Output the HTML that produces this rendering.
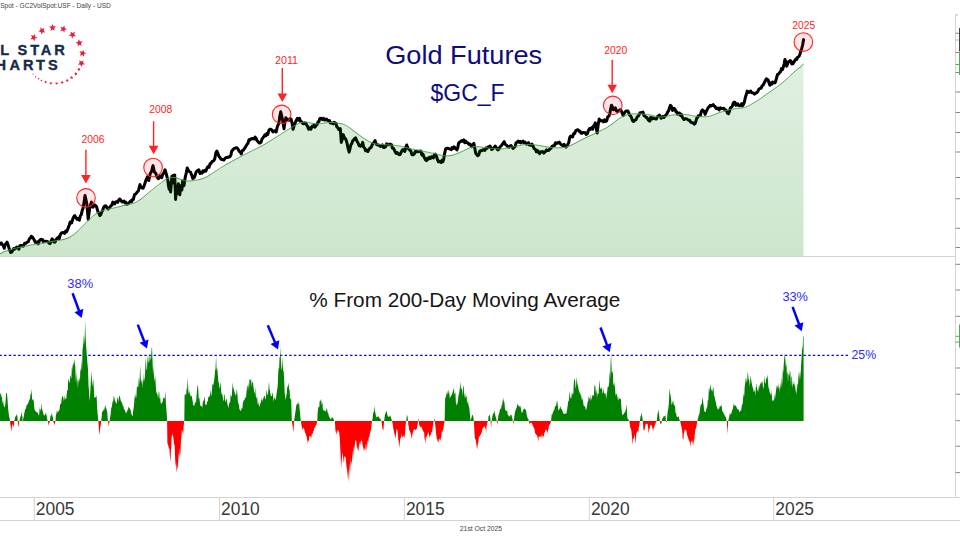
<!DOCTYPE html>
<html><head><meta charset="utf-8"><style>
html,body{margin:0;padding:0;background:#fff;width:960px;height:540px;overflow:hidden}
</style></head><body>
<svg width="960" height="540" viewBox="0 0 960 540" style="display:block">
<defs>
<linearGradient id="g1" gradientUnits="userSpaceOnUse" x1="0" y1="38" x2="0" y2="256"><stop offset="0" stop-color="#008000" stop-opacity="0.11"/><stop offset="1" stop-color="#008000" stop-opacity="0.20"/></linearGradient>
<clipPath id="cpos"><rect x="0" y="0" width="960" height="421.0"/></clipPath>
<clipPath id="cneg"><rect x="0" y="421.0" width="960" height="200"/></clipPath>
</defs>
<rect width="960" height="540" fill="#fff"/>
<polyline points="0.0,244.2 1.2,242.9 2.5,244.6 3.4,245.9 4.2,248.3 5.0,244.9 5.8,243.8 7.1,242.1 8.3,245.8 9.6,250.0 10.8,252.5 11.7,252.1 12.5,250.8 13.6,248.6 14.6,249.2 15.6,248.3 16.7,247.1 17.7,247.7 18.8,249.2 19.8,245.9 20.8,245.4 22.1,245.8 23.3,246.2 24.6,243.3 25.8,243.3 27.1,242.3 28.3,241.7 29.4,238.6 30.4,238.3 31.2,236.2 32.1,236.7 33.2,238.1 34.2,240.0 35.2,242.3 36.2,242.5 37.3,241.9 38.3,243.8 39.5,240.6 40.8,239.2 41.6,239.8 42.5,239.6 43.4,241.9 44.2,241.2 45.5,241.5 46.7,241.2 48.0,241.9 49.2,243.3 50.2,243.6 51.2,240.8 52.1,238.9 52.9,240.0 54.0,242.2 55.0,242.1 56.2,239.3 57.5,237.9 58.4,237.2 59.2,238.8 60.2,234.8 61.2,233.3 62.5,232.4 63.7,232.7 64.6,233.4 65.6,231.1 66.5,231.8 67.4,230.0 68.3,227.6 69.2,225.2 70.2,222.0 71.6,223.0 73.0,218.3 73.9,216.5 74.8,215.6 75.9,217.6 77.1,219.3 78.2,218.4 79.4,220.2 80.3,216.0 81.3,214.6 82.2,210.4 83.1,208.1 84.0,202.4 85.0,195.6 86.0,199.8 86.9,204.4 88.2,219.3 89.6,209.1 90.5,205.0 91.5,202.1 92.9,207.2 93.8,206.3 94.7,204.9 95.7,205.7 96.6,206.8 98.0,211.9 98.9,213.1 99.8,215.6 100.8,214.7 101.7,211.9 102.6,210.4 103.5,207.7 104.7,205.9 105.8,205.8 106.9,207.7 108.1,209.1 109.3,207.8 110.5,206.3 111.7,205.4 112.8,202.1 113.7,203.8 114.6,204.0 115.5,202.2 116.5,201.7 117.7,202.3 118.8,199.8 119.8,199.0 120.9,200.4 122.0,202.0 123.0,201.6 124.0,201.1 124.9,202.9 125.8,202.1 126.8,204.2 127.8,203.9 128.8,203.4 129.7,202.0 130.7,200.9 131.6,201.7 132.4,199.4 133.3,199.6 134.6,194.4 135.6,194.1 136.6,192.8 137.5,191.8 138.5,190.6 139.2,187.5 140.0,184.6 140.9,187.3 141.9,187.9 143.1,188.2 144.2,185.6 145.1,182.7 146.0,180.0 147.4,176.8 148.8,180.5 150.2,173.5 151.6,171.2 153.0,165.6 154.4,172.1 155.7,173.1 157.1,177.2 158.5,178.6 159.9,175.8 160.9,177.3 161.8,177.7 162.7,174.2 163.6,173.5 165.0,169.8 166.4,174.4 167.8,180.0 168.5,186.0 169.2,189.3 169.9,183.0 170.6,192.0 171.2,185.0 171.9,176.3 172.6,183.0 173.3,175.4 174.0,182.0 174.7,174.9 175.6,199.4 176.3,190.0 177.0,193.9 177.7,188.0 178.4,183.7 179.1,190.0 179.8,194.8 180.5,188.0 181.2,185.6 181.9,190.0 182.6,180.9 183.3,186.0 184.0,185.6 185.4,176.3 186.3,172.8 187.2,168.0 188.6,170.7 189.6,171.9 190.5,172.1 191.9,175.8 192.8,178.5 193.7,178.1 194.6,176.8 195.6,173.5 196.5,171.4 197.4,170.7 198.8,169.8 200.0,173.5 201.0,172.7 202.0,173.2 202.9,170.8 203.9,171.8 204.9,170.4 205.9,171.1 206.9,168.3 208.0,166.6 209.0,167.3 210.1,163.7 211.1,163.3 212.0,161.6 212.8,161.2 213.7,160.7 214.8,158.7 215.8,152.9 216.9,151.0 217.9,153.4 218.9,156.2 219.8,157.2 220.8,159.0 221.8,159.6 222.7,159.4 223.8,160.1 225.0,158.5 226.0,157.5 226.9,157.6 227.9,157.1 228.9,157.2 229.9,156.7 230.9,155.1 231.8,150.8 232.8,150.1 233.9,148.6 235.1,148.2 236.2,147.7 237.3,148.1 238.3,149.5 239.2,151.3 240.2,151.8 241.2,154.0 242.3,150.6 243.4,150.1 244.6,148.2 245.7,146.8 246.8,144.6 247.9,143.5 249.0,139.7 250.1,139.9 251.1,138.9 252.2,138.4 253.2,138.8 254.2,139.0 255.1,137.0 256.1,138.4 257.1,140.8 258.1,141.6 259.0,143.0 260.0,143.0 261.0,142.3 261.9,139.4 262.9,137.8 263.9,136.5 264.9,134.7 265.9,135.9 266.8,133.6 267.8,134.5 268.8,130.5 269.7,129.3 270.8,129.3 271.9,130.0 273.0,132.0 274.1,131.5 275.1,130.6 276.2,132.0 277.1,127.6 277.9,125.2 278.8,123.5 279.8,116.4 280.7,111.8 281.7,115.9 282.7,120.9 284.0,128.7 284.9,121.7 285.9,117.7 287.0,119.8 288.0,119.8 289.1,120.3 290.1,118.5 291.1,119.0 292.1,123.4 293.0,129.3 294.1,125.8 295.2,122.9 296.3,120.3 297.4,118.4 298.4,120.1 299.5,118.3 300.6,121.6 301.7,121.7 302.8,123.5 303.8,123.8 304.7,122.8 305.7,123.2 306.6,124.8 307.6,126.5 308.6,129.3 309.7,127.9 310.9,129.1 312.0,126.3 313.1,126.7 314.1,124.7 315.1,127.2 316.0,125.4 317.0,124.8 318.0,122.0 318.9,121.7 319.9,118.4 320.9,118.3 321.8,118.4 322.6,119.8 323.5,118.3 324.5,120.0 325.4,119.9 326.4,119.0 327.4,120.3 328.4,120.5 329.4,120.5 330.3,123.1 331.3,122.9 332.2,123.0 333.2,123.8 334.2,122.4 335.1,122.9 336.0,123.5 336.8,126.9 337.7,127.4 338.6,129.4 339.4,129.4 340.3,128.7 341.3,142.4 342.2,139.5 343.2,134.6 344.1,137.2 344.9,138.4 345.8,139.2 346.9,142.6 348.0,147.9 349.1,152.1 350.0,148.8 350.8,145.0 351.7,143.7 352.7,140.7 353.6,140.1 354.6,138.6 355.6,137.9 356.9,141.1 358.1,143.0 359.0,145.6 359.8,145.0 360.7,146.3 361.7,145.7 362.7,142.4 363.6,146.9 364.6,148.2 365.7,150.8 366.8,150.0 367.9,151.5 369.0,149.3 370.0,148.0 371.1,147.6 372.1,144.9 373.1,143.1 374.0,142.7 375.0,140.5 375.9,143.3 376.7,144.6 377.6,145.0 378.6,145.1 379.6,145.8 380.5,146.4 381.5,145.6 382.4,144.9 383.2,147.4 384.1,147.6 385.4,147.0 386.6,143.7 387.6,144.8 388.6,144.8 389.5,144.1 390.5,144.3 391.5,144.7 392.4,148.2 393.4,148.2 394.4,150.2 395.3,152.1 396.2,153.5 397.2,152.6 398.1,153.5 399.0,154.7 400.1,154.6 401.1,152.4 402.2,150.2 403.1,149.6 403.9,149.9 404.8,151.5 405.8,147.1 406.7,145.0 407.8,148.0 408.9,149.4 410.0,150.2 410.9,151.3 411.9,154.7 413.0,154.7 414.1,154.1 415.2,151.5 416.1,152.0 417.1,151.0 418.1,151.7 419.0,151.5 420.0,151.0 420.9,151.2 421.9,155.0 422.9,154.1 423.8,156.5 424.6,158.1 425.5,159.9 426.5,160.6 427.4,158.4 428.4,159.1 429.4,157.3 430.4,158.5 431.4,156.7 432.3,157.0 433.3,157.9 434.2,155.3 435.2,154.1 436.3,155.8 437.4,159.5 438.5,161.8 439.4,161.3 440.2,162.0 441.1,162.5 442.0,160.2 442.8,161.6 443.7,159.2 444.6,153.6 445.6,148.9 446.6,148.4 447.6,148.2 448.9,148.8 450.1,148.9 451.1,149.7 452.1,147.6 453.0,148.7 454.0,146.9 455.0,147.9 455.9,149.0 456.9,149.9 457.8,147.4 458.6,143.2 459.5,142.1 460.6,141.6 461.7,140.5 462.8,141.2 463.8,139.9 464.8,142.8 465.7,141.1 466.7,142.5 467.8,142.9 468.8,144.3 469.9,144.1 470.9,145.6 471.8,146.7 472.8,144.5 473.8,143.4 474.8,148.3 475.7,153.1 476.7,154.6 477.7,155.7 478.8,154.9 479.8,151.0 480.9,150.5 481.9,150.7 482.9,149.7 483.8,149.8 484.8,150.5 486.1,147.9 487.1,148.3 488.1,147.0 489.0,146.7 490.0,146.0 490.9,147.9 491.7,149.5 492.6,149.2 493.5,148.0 494.3,147.4 495.2,146.0 496.1,147.3 496.9,148.6 497.8,149.9 498.9,149.2 499.9,147.1 501.0,146.0 502.1,144.7 503.1,143.1 504.2,141.7 505.1,144.3 505.9,144.8 506.8,145.4 507.9,146.8 509.0,147.2 510.1,146.0 511.1,145.6 512.0,146.8 513.0,148.4 514.0,147.3 515.1,146.7 516.1,142.7 517.2,142.1 518.2,141.1 519.2,142.3 520.1,141.3 521.1,142.8 522.1,141.8 523.0,141.1 524.0,142.8 525.0,142.1 525.9,143.4 526.7,144.2 527.6,143.4 528.5,142.7 529.3,145.0 530.2,144.7 531.1,145.4 531.9,144.0 532.8,145.4 534.0,148.5 535.3,149.2 536.4,151.8 537.5,150.5 538.6,152.5 539.7,153.7 540.7,151.7 541.8,151.8 542.8,151.6 543.8,153.1 544.7,152.4 545.7,151.2 546.6,149.9 547.4,150.5 548.3,150.5 549.2,149.9 550.0,148.7 550.9,148.6 551.8,146.6 552.6,146.0 553.5,145.6 554.5,145.6 555.5,142.7 556.4,143.7 557.4,142.8 558.4,143.1 559.3,142.2 560.3,143.7 561.3,144.7 562.2,145.4 563.2,145.4 564.1,144.3 565.1,146.0 566.0,147.1 566.8,146.1 567.7,144.7 568.7,142.7 569.7,137.6 570.7,136.1 571.6,136.4 572.6,137.0 573.7,133.4 574.7,133.6 575.8,130.5 576.9,130.0 578.0,129.8 579.1,131.2 580.1,131.3 581.0,133.2 582.0,133.2 583.0,132.5 584.1,132.4 585.1,132.6 586.2,134.4 587.3,133.8 588.3,130.8 589.4,128.6 590.5,129.4 591.6,127.7 592.7,129.2 593.6,125.7 594.4,125.5 595.3,122.8 596.2,127.7 597.2,133.1 598.2,124.6 599.2,118.9 600.3,120.9 601.3,120.6 602.4,120.8 603.5,122.0 604.5,119.9 605.6,121.5 606.7,120.9 607.8,116.6 608.9,116.3 609.8,113.8 610.6,108.8 611.5,105.3 612.5,107.0 613.4,109.8 614.4,109.0 615.4,107.9 616.6,111.2 617.9,111.7 619.0,110.6 620.1,109.7 621.2,110.5 622.2,113.1 623.1,115.6 624.1,113.6 625.0,112.1 626.0,111.1 627.0,111.1 627.9,111.0 628.7,112.7 629.6,115.0 630.6,116.0 631.5,117.6 632.5,120.7 633.5,121.5 634.4,120.2 635.2,120.2 636.1,119.5 637.0,117.2 637.8,116.4 638.7,115.6 639.8,113.0 640.8,112.7 641.9,112.4 643.0,112.1 644.1,115.7 645.2,116.3 646.2,117.6 647.1,117.6 648.0,119.6 649.0,120.8 649.9,121.1 650.7,117.4 651.6,117.6 652.6,118.9 653.5,118.0 654.5,118.6 655.5,118.9 656.5,119.0 657.5,116.6 658.4,116.0 659.4,115.0 660.3,116.5 661.1,118.3 662.0,117.6 663.0,116.4 664.0,117.4 664.9,116.3 665.9,115.0 666.8,114.1 667.6,112.1 668.5,111.1 669.5,107.7 670.4,105.3 671.4,106.5 672.4,110.5 673.3,108.9 674.1,108.3 675.0,109.2 675.9,111.7 676.7,111.8 677.6,114.3 678.5,113.2 679.5,113.0 680.5,115.4 681.4,114.3 682.3,117.2 683.1,118.3 684.0,119.5 684.9,118.8 685.8,118.7 686.7,118.9 687.6,119.6 688.7,120.3 689.7,120.2 690.8,122.2 691.9,122.7 693.0,122.7 694.1,124.1 695.0,123.6 695.8,121.7 696.7,118.3 697.6,117.6 698.4,115.7 699.3,115.7 700.4,115.3 701.4,111.2 702.5,109.9 703.4,110.9 704.2,111.3 705.1,114.4 706.2,111.7 707.2,109.6 708.3,107.3 709.3,106.8 710.2,105.4 711.2,105.9 712.2,105.4 713.2,104.6 714.2,106.2 715.1,106.5 716.1,108.6 717.2,108.7 718.2,108.0 719.3,109.9 720.4,107.9 721.5,108.4 722.6,108.6 723.7,108.2 724.7,109.7 725.8,109.9 726.7,111.3 727.5,113.3 728.4,113.8 729.4,111.4 730.4,108.0 731.4,107.2 732.3,106.3 733.2,103.2 734.2,102.1 735.1,102.4 735.9,105.4 736.8,104.7 737.8,103.8 738.8,105.8 739.7,105.7 740.7,105.4 741.6,103.7 742.4,106.0 743.3,104.7 744.3,102.4 745.3,97.6 746.2,94.8 747.2,91.1 748.1,92.0 748.9,92.5 749.8,91.7 750.7,91.0 751.5,92.6 752.4,93.0 753.5,93.0 754.5,94.1 755.6,93.0 756.7,92.7 757.8,91.5 758.9,89.2 760.0,88.4 761.0,88.3 762.1,85.9 763.0,85.2 763.8,83.9 764.7,82.0 765.6,80.3 766.4,78.8 767.3,79.4 768.2,80.2 769.0,82.9 769.9,85.3 770.8,82.9 771.6,84.2 772.5,82.0 773.4,82.4 774.2,82.9 775.1,82.7 776.3,79.0 777.5,74.5 778.5,74.1 779.6,72.6 780.6,71.7 781.5,68.6 782.4,69.7 783.3,67.2 784.1,64.1 785.0,59.4 785.9,62.8 786.7,66.1 787.5,64.0 788.3,61.7 789.1,61.7 790.0,60.6 790.9,60.9 791.7,63.9 792.8,63.8 793.9,62.2 794.8,60.5 795.8,59.0 796.7,59.4 797.5,57.4 798.3,57.0 799.1,56.2 800.0,54.0 800.8,50.8 801.5,49.5 802.6,45.0 803.6,39.6" fill="none" stroke="#000" stroke-width="3.0" stroke-linejoin="round" stroke-linecap="round"/>
<polygon points="0.0,256.0 0.0,253.8 1.0,253.3 2.1,252.8 3.1,252.0 4.2,251.7 5.2,251.4 6.2,251.0 7.3,250.6 8.3,250.2 9.4,249.9 10.4,249.6 11.4,249.3 12.5,249.0 13.6,248.7 14.6,248.5 15.6,248.2 16.7,248.0 17.7,247.7 18.8,247.5 19.8,247.3 20.9,247.1 21.9,246.9 22.9,246.7 24.0,246.5 25.0,246.3 26.0,246.0 27.1,245.8 28.1,245.6 29.1,245.4 30.2,245.2 31.2,245.0 32.3,244.8 33.3,244.7 34.3,244.5 35.4,244.3 36.5,244.1 37.5,244.0 38.5,243.8 39.6,243.6 40.7,243.4 41.7,243.3 42.7,243.1 43.8,242.9 44.8,242.7 45.9,242.5 46.9,242.3 47.9,242.1 49.0,241.9 50.0,241.7 51.0,241.6 52.1,241.4 53.1,241.2 54.1,241.1 55.2,240.9 56.2,240.7 57.3,240.6 58.3,240.4 59.2,240.3 60.2,240.1 61.1,240.0 62.1,239.8 63.0,239.6 64.0,239.3 65.0,239.0 66.0,238.7 67.0,238.4 68.0,238.0 69.0,237.5 70.0,237.0 71.0,236.4 71.9,235.8 72.9,235.2 73.9,234.4 74.9,233.6 75.9,232.7 77.0,231.8 78.0,230.8 79.0,229.8 80.0,228.8 81.1,227.7 82.1,226.7 83.1,225.6 84.1,224.6 85.2,223.5 86.2,222.5 87.2,221.4 88.3,220.4 89.3,219.3 90.3,218.3 91.4,217.4 92.4,216.5 93.3,215.7 94.2,215.0 95.2,214.3 96.1,213.7 97.0,213.1 97.9,212.6 98.9,212.2 99.8,211.8 100.8,211.4 101.7,211.0 102.6,210.7 103.5,210.4 104.5,210.1 105.4,209.9 106.3,209.6 107.2,209.4 108.1,209.2 109.1,209.0 110.0,208.8 110.9,208.6 111.8,208.4 112.8,208.2 113.7,208.0 114.7,207.8 115.6,207.6 116.7,207.3 117.8,207.0 118.9,206.8 120.0,206.5 121.0,206.2 122.0,205.9 123.0,205.6 124.0,205.4 125.1,205.2 126.1,204.9 127.1,204.7 128.2,204.5 129.2,204.3 130.2,204.0 131.2,203.8 132.3,203.5 133.3,203.2 134.3,202.9 135.2,202.5 136.2,202.1 137.1,201.6 138.1,201.1 139.0,200.5 140.0,199.8 141.0,199.1 142.1,198.3 143.1,197.5 144.1,196.6 145.2,195.7 146.2,194.8 147.2,193.9 148.3,193.0 149.3,192.1 150.3,191.3 151.3,190.4 152.4,189.6 153.4,188.7 154.4,187.9 155.4,187.1 156.5,186.3 157.5,185.5 158.5,184.8 159.4,184.0 160.4,183.3 161.3,182.6 162.2,181.9 163.2,181.2 164.1,180.5 165.0,179.9 165.9,179.3 166.9,178.8 167.8,178.4 168.7,178.0 169.6,177.7 170.6,177.5 171.5,177.4 172.4,177.4 173.3,177.4 174.2,177.5 175.2,177.6 176.1,177.8 177.0,178.1 177.9,178.4 178.9,178.7 179.8,179.1 180.8,179.4 181.7,179.8 182.6,180.1 183.5,180.4 184.5,180.6 185.4,180.8 186.3,180.9 187.2,181.0 188.1,181.0 189.1,181.0 190.0,181.0 190.9,180.9 191.8,180.8 192.8,180.7 193.7,180.6 194.7,180.5 195.6,180.3 196.7,180.1 197.8,179.9 198.9,179.7 200.0,179.4 201.0,179.1 202.0,178.8 202.9,178.5 203.9,178.1 204.9,177.7 205.9,177.2 206.9,176.7 207.8,176.2 208.8,175.6 209.8,175.0 210.8,174.3 211.8,173.7 212.7,173.0 213.7,172.4 214.7,171.8 215.6,171.1 216.6,170.5 217.6,169.8 218.5,169.2 219.5,168.6 220.4,167.9 221.4,167.3 222.3,166.8 223.3,166.2 224.2,165.6 225.1,165.1 226.1,164.5 227.0,164.0 228.0,163.4 229.0,162.9 230.1,162.3 231.1,161.8 232.1,161.2 233.1,160.7 234.2,160.1 235.2,159.6 236.2,159.0 237.2,158.5 238.3,157.9 239.3,157.4 240.3,156.8 241.3,156.3 242.4,155.7 243.4,155.2 244.4,154.6 245.4,154.1 246.5,153.6 247.5,153.1 248.5,152.6 249.5,152.0 250.6,151.5 251.6,151.0 252.6,150.5 253.6,150.0 254.7,149.5 255.7,149.0 256.7,148.5 257.7,148.0 258.8,147.4 259.8,146.9 260.8,146.4 261.8,145.9 262.9,145.3 263.9,144.7 264.9,144.2 265.9,143.5 267.0,142.9 268.0,142.3 269.0,141.7 270.0,141.0 271.0,140.4 272.1,139.7 273.1,139.1 274.1,138.4 275.1,137.8 276.2,137.1 277.2,136.5 278.2,135.8 279.2,135.2 280.2,134.5 281.3,133.9 282.3,133.2 283.3,132.6 284.3,131.9 285.3,131.3 286.3,130.6 287.3,130.0 288.4,129.3 289.4,128.7 290.4,128.1 291.4,127.5 292.4,126.9 293.4,126.3 294.3,125.7 295.3,125.2 296.3,124.7 297.3,124.2 298.2,123.7 299.2,123.3 300.2,122.9 301.3,122.6 302.3,122.4 303.4,122.2 304.5,122.1 305.5,122.1 306.6,122.2 307.6,122.3 308.6,122.4 309.6,122.7 310.6,122.9 311.7,123.2 312.7,123.4 313.7,123.6 314.7,123.8 315.7,123.9 316.7,124.0 317.7,123.9 318.7,123.9 319.7,123.7 320.7,123.6 321.7,123.4 322.7,123.3 323.7,123.1 324.7,122.9 325.7,122.8 326.7,122.7 327.7,122.6 328.7,122.5 329.7,122.5 330.8,122.5 331.8,122.5 332.8,122.6 333.9,122.7 334.9,122.8 335.9,122.9 336.9,123.0 338.0,123.1 339.0,123.3 339.9,123.4 340.9,123.6 341.8,123.8 342.8,124.1 343.7,124.4 344.6,124.8 345.6,125.2 346.5,125.8 347.6,126.4 348.7,127.1 349.8,127.9 350.8,128.7 351.9,129.6 353.0,130.4 354.0,131.2 355.0,132.0 356.0,132.7 357.0,133.5 358.0,134.2 359.0,134.9 359.9,135.6 360.9,136.3 361.9,137.0 362.9,137.7 363.9,138.3 364.9,139.0 365.9,139.6 366.9,140.2 367.8,140.8 368.8,141.3 369.8,141.8 370.8,142.3 371.8,142.7 372.7,143.1 373.7,143.5 374.7,143.7 375.6,143.9 376.6,144.1 377.6,144.2 378.6,144.3 379.5,144.3 380.5,144.4 381.5,144.5 382.5,144.5 383.4,144.6 384.4,144.6 385.4,144.7 386.4,144.8 387.4,144.8 388.4,144.9 389.4,145.0 390.4,145.0 391.4,145.1 392.3,145.2 393.3,145.3 394.3,145.3 395.3,145.4 396.3,145.5 397.3,145.7 398.3,145.8 399.3,146.0 400.3,146.2 401.3,146.4 402.3,146.6 403.3,146.9 404.3,147.1 405.3,147.4 406.3,147.6 407.3,147.9 408.3,148.1 409.3,148.4 410.3,148.6 411.3,148.8 412.3,149.1 413.3,149.3 414.3,149.5 415.3,149.7 416.3,149.9 417.3,150.1 418.2,150.3 419.2,150.5 420.2,150.7 421.2,150.9 422.2,151.1 423.2,151.3 424.2,151.5 425.2,151.7 426.3,151.9 427.3,152.1 428.4,152.3 429.4,152.5 430.4,152.7 431.5,152.9 432.5,153.1 433.6,153.3 434.6,153.5 435.6,153.8 436.6,154.1 437.6,154.4 438.6,154.6 439.7,154.9 440.7,155.2 441.7,155.4 442.7,155.6 443.7,155.8 444.7,155.9 445.8,155.9 446.8,155.9 447.9,155.9 448.9,155.8 449.9,155.7 451.0,155.5 452.0,155.3 453.0,155.0 454.0,154.7 454.9,154.4 455.9,154.0 456.9,153.6 457.9,153.2 458.9,152.8 459.9,152.4 460.8,152.0 461.8,151.5 462.8,151.1 463.8,150.6 464.9,150.1 465.9,149.6 466.9,149.1 468.0,148.6 469.0,148.2 470.0,147.7 471.0,147.3 472.1,147.0 473.1,146.8 474.1,146.6 475.1,146.6 476.2,146.6 477.2,146.6 478.2,146.7 479.2,146.8 480.2,147.0 481.3,147.1 482.3,147.2 483.3,147.4 484.3,147.5 485.4,147.6 486.4,147.7 487.4,147.8 488.4,148.0 489.4,148.1 490.4,148.2 491.5,148.3 492.5,148.4 493.5,148.5 494.5,148.5 495.5,148.6 496.5,148.7 497.5,148.8 498.6,148.9 499.6,148.9 500.6,148.9 501.6,148.8 502.6,148.8 503.6,148.7 504.5,148.5 505.5,148.3 506.5,148.1 507.4,147.9 508.4,147.7 509.4,147.5 510.4,147.3 511.3,147.1 512.3,146.9 513.3,146.7 514.3,146.5 515.3,146.3 516.3,146.1 517.3,145.9 518.3,145.7 519.3,145.5 520.3,145.3 521.3,145.1 522.3,144.9 523.3,144.8 524.3,144.6 525.3,144.5 526.3,144.5 527.3,144.4 528.3,144.4 529.3,144.5 530.3,144.5 531.3,144.6 532.3,144.7 533.2,144.8 534.2,144.9 535.2,145.0 536.2,145.1 537.2,145.2 538.2,145.4 539.2,145.5 540.2,145.7 541.2,145.8 542.2,146.0 543.2,146.2 544.2,146.4 545.2,146.6 546.2,146.7 547.2,146.9 548.2,147.1 549.2,147.3 550.2,147.4 551.2,147.6 552.2,147.7 553.2,147.7 554.2,147.8 555.2,147.8 556.2,147.8 557.2,147.8 558.2,147.8 559.1,147.8 560.1,147.8 561.1,147.7 562.1,147.7 563.1,147.6 564.1,147.4 565.1,147.3 566.1,147.0 567.1,146.8 568.1,146.4 569.0,146.1 570.0,145.7 571.0,145.3 572.0,144.8 573.0,144.3 574.0,143.8 575.0,143.3 576.0,142.8 577.0,142.3 578.0,141.7 579.0,141.2 580.0,140.7 581.0,140.1 582.0,139.6 583.0,139.1 584.0,138.6 585.0,138.1 586.0,137.7 587.0,137.2 588.0,136.7 589.0,136.3 589.9,135.8 590.9,135.4 591.9,134.9 592.9,134.5 593.9,134.0 594.9,133.5 595.9,133.1 596.9,132.6 597.9,132.1 598.9,131.6 599.9,131.1 600.9,130.6 601.9,130.1 602.9,129.6 603.9,129.1 604.9,128.6 605.9,128.1 606.9,127.5 607.9,126.9 608.9,126.3 609.9,125.6 611.0,124.8 612.0,124.1 613.0,123.3 614.0,122.5 615.1,121.6 616.1,120.8 617.1,120.1 618.2,119.3 619.2,118.6 620.2,118.0 621.2,117.4 622.1,116.8 623.1,116.3 624.1,115.9 625.0,115.5 626.0,115.1 627.0,114.8 628.0,114.5 629.0,114.3 629.9,114.2 630.9,114.1 631.9,114.0 632.8,113.9 633.8,113.9 634.8,113.8 635.8,113.8 636.8,113.8 637.8,113.9 638.8,113.9 639.8,113.9 640.8,114.0 641.8,114.0 642.8,114.1 643.8,114.1 644.8,114.2 645.8,114.3 646.8,114.4 647.8,114.5 648.8,114.7 649.8,114.9 650.8,115.1 651.8,115.3 652.8,115.6 653.8,115.8 654.7,116.1 655.7,116.3 656.7,116.5 657.7,116.7 658.7,116.9 659.7,117.0 660.7,117.0 661.7,117.0 662.7,116.9 663.7,116.8 664.7,116.7 665.7,116.5 666.7,116.3 667.7,116.0 668.7,115.8 669.7,115.6 670.7,115.4 671.7,115.2 672.7,115.1 673.7,114.9 674.7,114.8 675.7,114.7 676.7,114.7 677.7,114.6 678.7,114.6 679.7,114.5 680.6,114.5 681.6,114.5 682.6,114.5 683.6,114.5 684.6,114.5 685.6,114.5 686.6,114.6 687.6,114.7 688.6,114.9 689.5,115.1 690.5,115.3 691.5,115.5 692.5,115.7 693.4,115.9 694.4,116.0 695.4,116.2 696.4,116.3 697.4,116.4 698.4,116.5 699.4,116.6 700.4,116.6 701.4,116.7 702.3,116.7 703.3,116.7 704.3,116.8 705.3,116.8 706.3,116.7 707.3,116.6 708.3,116.5 709.3,116.3 710.3,116.0 711.3,115.7 712.3,115.4 713.3,115.0 714.3,114.6 715.3,114.2 716.3,113.8 717.3,113.4 718.3,113.0 719.3,112.7 720.3,112.3 721.3,112.0 722.3,111.7 723.3,111.4 724.3,111.1 725.3,110.8 726.3,110.6 727.3,110.3 728.2,110.1 729.2,109.8 730.2,109.6 731.2,109.4 732.2,109.2 733.2,109.0 734.2,108.8 735.2,108.7 736.3,108.6 737.3,108.5 738.4,108.4 739.4,108.3 740.4,108.2 741.5,108.1 742.5,107.9 743.6,107.7 744.6,107.4 745.6,107.1 746.5,106.7 747.5,106.3 748.5,105.8 749.5,105.3 750.5,104.7 751.4,104.2 752.4,103.6 753.4,103.1 754.3,102.5 755.3,101.9 756.3,101.3 757.3,100.7 758.3,100.0 759.3,99.4 760.3,98.7 761.3,98.0 762.3,97.3 763.2,96.6 764.2,95.9 765.2,95.2 766.2,94.5 767.2,93.8 768.2,93.1 769.2,92.4 770.2,91.7 771.2,91.0 772.2,90.3 773.2,89.6 774.2,88.9 775.2,88.2 776.2,87.5 777.2,86.8 778.2,86.1 779.2,85.3 780.2,84.6 781.2,83.8 782.2,83.0 783.2,82.2 784.2,81.3 785.2,80.4 786.2,79.5 787.2,78.6 788.2,77.6 789.1,76.7 790.1,75.7 791.1,74.8 792.1,73.9 793.1,72.9 794.1,72.0 795.1,71.2 796.1,70.3 797.0,69.5 798.0,68.7 799.0,67.9 800.0,67.3 801.0,66.7 801.9,65.3 802.9,64.5 803.5,64.0 803.5,256.0" fill="url(#g1)"/>
<polyline points="0.0,253.8 1.0,253.3 2.1,252.8 3.1,252.0 4.2,251.7 5.2,251.4 6.2,251.0 7.3,250.6 8.3,250.2 9.4,249.9 10.4,249.6 11.4,249.3 12.5,249.0 13.6,248.7 14.6,248.5 15.6,248.2 16.7,248.0 17.7,247.7 18.8,247.5 19.8,247.3 20.9,247.1 21.9,246.9 22.9,246.7 24.0,246.5 25.0,246.3 26.0,246.0 27.1,245.8 28.1,245.6 29.1,245.4 30.2,245.2 31.2,245.0 32.3,244.8 33.3,244.7 34.3,244.5 35.4,244.3 36.5,244.1 37.5,244.0 38.5,243.8 39.6,243.6 40.7,243.4 41.7,243.3 42.7,243.1 43.8,242.9 44.8,242.7 45.9,242.5 46.9,242.3 47.9,242.1 49.0,241.9 50.0,241.7 51.0,241.6 52.1,241.4 53.1,241.2 54.1,241.1 55.2,240.9 56.2,240.7 57.3,240.6 58.3,240.4 59.2,240.3 60.2,240.1 61.1,240.0 62.1,239.8 63.0,239.6 64.0,239.3 65.0,239.0 66.0,238.7 67.0,238.4 68.0,238.0 69.0,237.5 70.0,237.0 71.0,236.4 71.9,235.8 72.9,235.2 73.9,234.4 74.9,233.6 75.9,232.7 77.0,231.8 78.0,230.8 79.0,229.8 80.0,228.8 81.1,227.7 82.1,226.7 83.1,225.6 84.1,224.6 85.2,223.5 86.2,222.5 87.2,221.4 88.3,220.4 89.3,219.3 90.3,218.3 91.4,217.4 92.4,216.5 93.3,215.7 94.2,215.0 95.2,214.3 96.1,213.7 97.0,213.1 97.9,212.6 98.9,212.2 99.8,211.8 100.8,211.4 101.7,211.0 102.6,210.7 103.5,210.4 104.5,210.1 105.4,209.9 106.3,209.6 107.2,209.4 108.1,209.2 109.1,209.0 110.0,208.8 110.9,208.6 111.8,208.4 112.8,208.2 113.7,208.0 114.7,207.8 115.6,207.6 116.7,207.3 117.8,207.0 118.9,206.8 120.0,206.5 121.0,206.2 122.0,205.9 123.0,205.6 124.0,205.4 125.1,205.2 126.1,204.9 127.1,204.7 128.2,204.5 129.2,204.3 130.2,204.0 131.2,203.8 132.3,203.5 133.3,203.2 134.3,202.9 135.2,202.5 136.2,202.1 137.1,201.6 138.1,201.1 139.0,200.5 140.0,199.8 141.0,199.1 142.1,198.3 143.1,197.5 144.1,196.6 145.2,195.7 146.2,194.8 147.2,193.9 148.3,193.0 149.3,192.1 150.3,191.3 151.3,190.4 152.4,189.6 153.4,188.7 154.4,187.9 155.4,187.1 156.5,186.3 157.5,185.5 158.5,184.8 159.4,184.0 160.4,183.3 161.3,182.6 162.2,181.9 163.2,181.2 164.1,180.5 165.0,179.9 165.9,179.3 166.9,178.8 167.8,178.4 168.7,178.0 169.6,177.7 170.6,177.5 171.5,177.4 172.4,177.4 173.3,177.4 174.2,177.5 175.2,177.6 176.1,177.8 177.0,178.1 177.9,178.4 178.9,178.7 179.8,179.1 180.8,179.4 181.7,179.8 182.6,180.1 183.5,180.4 184.5,180.6 185.4,180.8 186.3,180.9 187.2,181.0 188.1,181.0 189.1,181.0 190.0,181.0 190.9,180.9 191.8,180.8 192.8,180.7 193.7,180.6 194.7,180.5 195.6,180.3 196.7,180.1 197.8,179.9 198.9,179.7 200.0,179.4 201.0,179.1 202.0,178.8 202.9,178.5 203.9,178.1 204.9,177.7 205.9,177.2 206.9,176.7 207.8,176.2 208.8,175.6 209.8,175.0 210.8,174.3 211.8,173.7 212.7,173.0 213.7,172.4 214.7,171.8 215.6,171.1 216.6,170.5 217.6,169.8 218.5,169.2 219.5,168.6 220.4,167.9 221.4,167.3 222.3,166.8 223.3,166.2 224.2,165.6 225.1,165.1 226.1,164.5 227.0,164.0 228.0,163.4 229.0,162.9 230.1,162.3 231.1,161.8 232.1,161.2 233.1,160.7 234.2,160.1 235.2,159.6 236.2,159.0 237.2,158.5 238.3,157.9 239.3,157.4 240.3,156.8 241.3,156.3 242.4,155.7 243.4,155.2 244.4,154.6 245.4,154.1 246.5,153.6 247.5,153.1 248.5,152.6 249.5,152.0 250.6,151.5 251.6,151.0 252.6,150.5 253.6,150.0 254.7,149.5 255.7,149.0 256.7,148.5 257.7,148.0 258.8,147.4 259.8,146.9 260.8,146.4 261.8,145.9 262.9,145.3 263.9,144.7 264.9,144.2 265.9,143.5 267.0,142.9 268.0,142.3 269.0,141.7 270.0,141.0 271.0,140.4 272.1,139.7 273.1,139.1 274.1,138.4 275.1,137.8 276.2,137.1 277.2,136.5 278.2,135.8 279.2,135.2 280.2,134.5 281.3,133.9 282.3,133.2 283.3,132.6 284.3,131.9 285.3,131.3 286.3,130.6 287.3,130.0 288.4,129.3 289.4,128.7 290.4,128.1 291.4,127.5 292.4,126.9 293.4,126.3 294.3,125.7 295.3,125.2 296.3,124.7 297.3,124.2 298.2,123.7 299.2,123.3 300.2,122.9 301.3,122.6 302.3,122.4 303.4,122.2 304.5,122.1 305.5,122.1 306.6,122.2 307.6,122.3 308.6,122.4 309.6,122.7 310.6,122.9 311.7,123.2 312.7,123.4 313.7,123.6 314.7,123.8 315.7,123.9 316.7,124.0 317.7,123.9 318.7,123.9 319.7,123.7 320.7,123.6 321.7,123.4 322.7,123.3 323.7,123.1 324.7,122.9 325.7,122.8 326.7,122.7 327.7,122.6 328.7,122.5 329.7,122.5 330.8,122.5 331.8,122.5 332.8,122.6 333.9,122.7 334.9,122.8 335.9,122.9 336.9,123.0 338.0,123.1 339.0,123.3 339.9,123.4 340.9,123.6 341.8,123.8 342.8,124.1 343.7,124.4 344.6,124.8 345.6,125.2 346.5,125.8 347.6,126.4 348.7,127.1 349.8,127.9 350.8,128.7 351.9,129.6 353.0,130.4 354.0,131.2 355.0,132.0 356.0,132.7 357.0,133.5 358.0,134.2 359.0,134.9 359.9,135.6 360.9,136.3 361.9,137.0 362.9,137.7 363.9,138.3 364.9,139.0 365.9,139.6 366.9,140.2 367.8,140.8 368.8,141.3 369.8,141.8 370.8,142.3 371.8,142.7 372.7,143.1 373.7,143.5 374.7,143.7 375.6,143.9 376.6,144.1 377.6,144.2 378.6,144.3 379.5,144.3 380.5,144.4 381.5,144.5 382.5,144.5 383.4,144.6 384.4,144.6 385.4,144.7 386.4,144.8 387.4,144.8 388.4,144.9 389.4,145.0 390.4,145.0 391.4,145.1 392.3,145.2 393.3,145.3 394.3,145.3 395.3,145.4 396.3,145.5 397.3,145.7 398.3,145.8 399.3,146.0 400.3,146.2 401.3,146.4 402.3,146.6 403.3,146.9 404.3,147.1 405.3,147.4 406.3,147.6 407.3,147.9 408.3,148.1 409.3,148.4 410.3,148.6 411.3,148.8 412.3,149.1 413.3,149.3 414.3,149.5 415.3,149.7 416.3,149.9 417.3,150.1 418.2,150.3 419.2,150.5 420.2,150.7 421.2,150.9 422.2,151.1 423.2,151.3 424.2,151.5 425.2,151.7 426.3,151.9 427.3,152.1 428.4,152.3 429.4,152.5 430.4,152.7 431.5,152.9 432.5,153.1 433.6,153.3 434.6,153.5 435.6,153.8 436.6,154.1 437.6,154.4 438.6,154.6 439.7,154.9 440.7,155.2 441.7,155.4 442.7,155.6 443.7,155.8 444.7,155.9 445.8,155.9 446.8,155.9 447.9,155.9 448.9,155.8 449.9,155.7 451.0,155.5 452.0,155.3 453.0,155.0 454.0,154.7 454.9,154.4 455.9,154.0 456.9,153.6 457.9,153.2 458.9,152.8 459.9,152.4 460.8,152.0 461.8,151.5 462.8,151.1 463.8,150.6 464.9,150.1 465.9,149.6 466.9,149.1 468.0,148.6 469.0,148.2 470.0,147.7 471.0,147.3 472.1,147.0 473.1,146.8 474.1,146.6 475.1,146.6 476.2,146.6 477.2,146.6 478.2,146.7 479.2,146.8 480.2,147.0 481.3,147.1 482.3,147.2 483.3,147.4 484.3,147.5 485.4,147.6 486.4,147.7 487.4,147.8 488.4,148.0 489.4,148.1 490.4,148.2 491.5,148.3 492.5,148.4 493.5,148.5 494.5,148.5 495.5,148.6 496.5,148.7 497.5,148.8 498.6,148.9 499.6,148.9 500.6,148.9 501.6,148.8 502.6,148.8 503.6,148.7 504.5,148.5 505.5,148.3 506.5,148.1 507.4,147.9 508.4,147.7 509.4,147.5 510.4,147.3 511.3,147.1 512.3,146.9 513.3,146.7 514.3,146.5 515.3,146.3 516.3,146.1 517.3,145.9 518.3,145.7 519.3,145.5 520.3,145.3 521.3,145.1 522.3,144.9 523.3,144.8 524.3,144.6 525.3,144.5 526.3,144.5 527.3,144.4 528.3,144.4 529.3,144.5 530.3,144.5 531.3,144.6 532.3,144.7 533.2,144.8 534.2,144.9 535.2,145.0 536.2,145.1 537.2,145.2 538.2,145.4 539.2,145.5 540.2,145.7 541.2,145.8 542.2,146.0 543.2,146.2 544.2,146.4 545.2,146.6 546.2,146.7 547.2,146.9 548.2,147.1 549.2,147.3 550.2,147.4 551.2,147.6 552.2,147.7 553.2,147.7 554.2,147.8 555.2,147.8 556.2,147.8 557.2,147.8 558.2,147.8 559.1,147.8 560.1,147.8 561.1,147.7 562.1,147.7 563.1,147.6 564.1,147.4 565.1,147.3 566.1,147.0 567.1,146.8 568.1,146.4 569.0,146.1 570.0,145.7 571.0,145.3 572.0,144.8 573.0,144.3 574.0,143.8 575.0,143.3 576.0,142.8 577.0,142.3 578.0,141.7 579.0,141.2 580.0,140.7 581.0,140.1 582.0,139.6 583.0,139.1 584.0,138.6 585.0,138.1 586.0,137.7 587.0,137.2 588.0,136.7 589.0,136.3 589.9,135.8 590.9,135.4 591.9,134.9 592.9,134.5 593.9,134.0 594.9,133.5 595.9,133.1 596.9,132.6 597.9,132.1 598.9,131.6 599.9,131.1 600.9,130.6 601.9,130.1 602.9,129.6 603.9,129.1 604.9,128.6 605.9,128.1 606.9,127.5 607.9,126.9 608.9,126.3 609.9,125.6 611.0,124.8 612.0,124.1 613.0,123.3 614.0,122.5 615.1,121.6 616.1,120.8 617.1,120.1 618.2,119.3 619.2,118.6 620.2,118.0 621.2,117.4 622.1,116.8 623.1,116.3 624.1,115.9 625.0,115.5 626.0,115.1 627.0,114.8 628.0,114.5 629.0,114.3 629.9,114.2 630.9,114.1 631.9,114.0 632.8,113.9 633.8,113.9 634.8,113.8 635.8,113.8 636.8,113.8 637.8,113.9 638.8,113.9 639.8,113.9 640.8,114.0 641.8,114.0 642.8,114.1 643.8,114.1 644.8,114.2 645.8,114.3 646.8,114.4 647.8,114.5 648.8,114.7 649.8,114.9 650.8,115.1 651.8,115.3 652.8,115.6 653.8,115.8 654.7,116.1 655.7,116.3 656.7,116.5 657.7,116.7 658.7,116.9 659.7,117.0 660.7,117.0 661.7,117.0 662.7,116.9 663.7,116.8 664.7,116.7 665.7,116.5 666.7,116.3 667.7,116.0 668.7,115.8 669.7,115.6 670.7,115.4 671.7,115.2 672.7,115.1 673.7,114.9 674.7,114.8 675.7,114.7 676.7,114.7 677.7,114.6 678.7,114.6 679.7,114.5 680.6,114.5 681.6,114.5 682.6,114.5 683.6,114.5 684.6,114.5 685.6,114.5 686.6,114.6 687.6,114.7 688.6,114.9 689.5,115.1 690.5,115.3 691.5,115.5 692.5,115.7 693.4,115.9 694.4,116.0 695.4,116.2 696.4,116.3 697.4,116.4 698.4,116.5 699.4,116.6 700.4,116.6 701.4,116.7 702.3,116.7 703.3,116.7 704.3,116.8 705.3,116.8 706.3,116.7 707.3,116.6 708.3,116.5 709.3,116.3 710.3,116.0 711.3,115.7 712.3,115.4 713.3,115.0 714.3,114.6 715.3,114.2 716.3,113.8 717.3,113.4 718.3,113.0 719.3,112.7 720.3,112.3 721.3,112.0 722.3,111.7 723.3,111.4 724.3,111.1 725.3,110.8 726.3,110.6 727.3,110.3 728.2,110.1 729.2,109.8 730.2,109.6 731.2,109.4 732.2,109.2 733.2,109.0 734.2,108.8 735.2,108.7 736.3,108.6 737.3,108.5 738.4,108.4 739.4,108.3 740.4,108.2 741.5,108.1 742.5,107.9 743.6,107.7 744.6,107.4 745.6,107.1 746.5,106.7 747.5,106.3 748.5,105.8 749.5,105.3 750.5,104.7 751.4,104.2 752.4,103.6 753.4,103.1 754.3,102.5 755.3,101.9 756.3,101.3 757.3,100.7 758.3,100.0 759.3,99.4 760.3,98.7 761.3,98.0 762.3,97.3 763.2,96.6 764.2,95.9 765.2,95.2 766.2,94.5 767.2,93.8 768.2,93.1 769.2,92.4 770.2,91.7 771.2,91.0 772.2,90.3 773.2,89.6 774.2,88.9 775.2,88.2 776.2,87.5 777.2,86.8 778.2,86.1 779.2,85.3 780.2,84.6 781.2,83.8 782.2,83.0 783.2,82.2 784.2,81.3 785.2,80.4 786.2,79.5 787.2,78.6 788.2,77.6 789.1,76.7 790.1,75.7 791.1,74.8 792.1,73.9 793.1,72.9 794.1,72.0 795.1,71.2 796.1,70.3 797.0,69.5 798.0,68.7 799.0,67.9 800.0,67.3 801.0,66.7 801.9,65.3 802.9,64.5 803.5,64.0" fill="none" stroke="#46a446" stroke-width="1"/>
<line x1="85.9" y1="149.7" x2="85.9" y2="175.5" stroke="#ff2424" stroke-width="1.4"/>
<path d="M81.10000000000001,175.0 L90.7,175.0 L85.9,183.5 Z" fill="#ff2424"/>
<circle cx="86" cy="197.9" r="9.3" fill="rgba(255,0,0,0.1)" stroke="#ff2424" stroke-width="1.1"/>
<text x="81.5" y="143.2" font-family='"Liberation Sans", sans-serif' font-size="10.3" fill="#ff2424" textLength="23" lengthAdjust="spacingAndGlyphs">2006</text>
<line x1="153.6" y1="121.2" x2="153.6" y2="146.2" stroke="#ff2424" stroke-width="1.4"/>
<path d="M148.79999999999998,145.7 L158.4,145.7 L153.6,154.2 Z" fill="#ff2424"/>
<circle cx="153.05" cy="167.5" r="9.3" fill="rgba(255,0,0,0.1)" stroke="#ff2424" stroke-width="1.1"/>
<text x="149.2" y="113.3" font-family='"Liberation Sans", sans-serif' font-size="10.3" fill="#ff2424" textLength="23" lengthAdjust="spacingAndGlyphs">2008</text>
<line x1="282.3" y1="68" x2="282.3" y2="93.9" stroke="#ff2424" stroke-width="1.4"/>
<path d="M277.5,93.4 L287.1,93.4 L282.3,101.9 Z" fill="#ff2424"/>
<circle cx="281.65" cy="114.4" r="9.3" fill="rgba(255,0,0,0.1)" stroke="#ff2424" stroke-width="1.1"/>
<text x="275.0" y="64.3" font-family='"Liberation Sans", sans-serif' font-size="10.3" fill="#ff2424" textLength="23" lengthAdjust="spacingAndGlyphs">2011</text>
<line x1="612.2" y1="59.7" x2="612.2" y2="85.3" stroke="#ff2424" stroke-width="1.4"/>
<path d="M607.4000000000001,84.8 L617.0,84.8 L612.2,93.3 Z" fill="#ff2424"/>
<circle cx="612.75" cy="105.4" r="9.3" fill="rgba(255,0,0,0.1)" stroke="#ff2424" stroke-width="1.1"/>
<text x="604.2" y="53.5" font-family='"Liberation Sans", sans-serif' font-size="10.3" fill="#ff2424" textLength="23" lengthAdjust="spacingAndGlyphs">2020</text>
<circle cx="803.35" cy="42.05" r="9.3" fill="rgba(255,0,0,0.1)" stroke="#ff2424" stroke-width="1.1"/>
<text x="792.3" y="29.0" font-family='"Liberation Sans", sans-serif' font-size="10.3" fill="#ff2424" textLength="23" lengthAdjust="spacingAndGlyphs">2025</text>
<text x="463.7" y="64.2" font-family='"Liberation Sans", sans-serif' font-size="25" fill="#0d0d7d" text-anchor="middle" textLength="157" lengthAdjust="spacingAndGlyphs">Gold Futures</text>
<text x="467.6" y="101.4" font-family='"Liberation Sans", sans-serif' font-size="24.5" fill="#0d0d7d" text-anchor="middle" textLength="74" lengthAdjust="spacingAndGlyphs">$GC_F</text>
<text x="0.2" y="7.8" font-family='"Liberation Sans", sans-serif' font-size="7" fill="#444" textLength="110.6" lengthAdjust="spacingAndGlyphs">Spot - GC2VolSpot:USF - Daily - USD</text>
<g transform="translate(0,55.3) scale(1,1)"><text x="0.2 17.4 30.2 40.7 54.3" y="0" font-family='"Liberation Sans", sans-serif' font-size="14.6" font-weight="bold" fill="#132a4c" stroke="#132a4c" stroke-width="0.35">LSTAR</text></g>
<g transform="translate(0,70.3) scale(1,1)"><text x="-4.5 9.4 22.9 35.9 48.1" y="0" font-family='"Liberation Sans", sans-serif' font-size="14.6" font-weight="bold" fill="#132a4c" stroke="#132a4c" stroke-width="0.35">HARTS</text></g>
<path d="M30.88,35.02 L33.33,35.85 L35.18,34.06 L35.15,36.64 L37.43,37.85 L34.97,38.61 L34.52,41.16 L33.03,39.05 L30.47,39.41 L32.02,37.34Z" fill="#e3203f"/>
<path d="M40.33,27.34 L42.28,29.04 L44.68,28.08 L43.67,30.45 L45.32,32.44 L42.75,32.21 L41.37,34.40 L40.79,31.88 L38.29,31.25 L40.50,29.92Z" fill="#e3203f"/>
<path d="M52.25,23.96 L53.40,26.27 L55.98,26.30 L54.14,28.11 L54.90,30.58 L52.61,29.38 L50.51,30.88 L50.93,28.33 L48.86,26.79 L51.42,26.41Z" fill="#e3203f"/>
<path d="M64.49,25.44 L64.67,28.02 L67.05,29.03 L64.66,30.00 L64.43,32.58 L62.77,30.60 L60.25,31.18 L61.61,28.99 L60.28,26.77 L62.79,27.39Z" fill="#e3203f"/>
<path d="M74.95,31.86 L74.14,34.31 L75.96,36.15 L73.38,36.14 L72.19,38.44 L71.40,35.98 L68.85,35.56 L70.94,34.05 L70.56,31.49 L72.64,33.02Z" fill="#e3203f"/>
<path d="M82.64,41.30 L80.97,43.26 L81.95,45.65 L79.56,44.67 L77.60,46.34 L77.80,43.77 L75.60,42.41 L78.11,41.81 L78.71,39.30 L80.07,41.50Z" fill="#e3203f"/>
<path d="M86.34,52.98 L84.04,54.17 L84.06,56.76 L82.22,54.94 L79.76,55.75 L80.92,53.44 L79.39,51.36 L81.94,51.75 L83.45,49.65 L83.88,52.20Z" fill="#e3203f"/>
<path d="M85.01,64.32 L82.45,64.62 L81.55,67.05 L80.46,64.70 L77.88,64.60 L79.78,62.84 L79.08,60.36 L81.33,61.61 L83.48,60.18 L82.98,62.72Z" fill="#e3203f"/>
<path d="M80.58,70.34 L79.26,70.19 L78.53,71.29 L78.26,69.99 L76.99,69.63 L78.14,68.98 L78.09,67.65 L79.07,68.55 L80.31,68.09 L79.76,69.30Z" fill="#e3203f"/>
<path d="M77.27,75.15 L76.00,74.74 L75.07,75.68 L75.06,74.35 L73.88,73.75 L75.14,73.34 L75.35,72.03 L76.13,73.10 L77.44,72.89 L76.66,73.97Z" fill="#e3203f"/>
<path d="M72.76,79.07 L71.63,78.44 L70.56,79.15 L70.81,77.89 L69.80,77.09 L71.08,76.94 L71.53,75.73 L72.07,76.90 L73.36,76.96 L72.41,77.83Z" fill="#e3203f"/>
<path d="M68.09,82.11 L67.13,81.31 L65.98,81.79 L66.44,80.63 L65.63,79.69 L66.87,79.77 L67.52,78.71 L67.82,79.92 L69.04,80.20 L67.98,80.87Z" fill="#e3203f"/>
<path d="M62.59,84.09 L61.83,83.14 L60.64,83.39 L61.31,82.37 L60.71,81.32 L61.88,81.64 L62.70,80.75 L62.76,81.96 L63.86,82.46 L62.72,82.89Z" fill="#e3203f"/>
<path d="M56.73,85.10 L56.20,84.05 L55.03,84.05 L55.85,83.22 L55.49,82.10 L56.54,82.64 L57.49,81.95 L57.31,83.11 L58.26,83.80 L57.10,83.98Z" fill="#e3203f"/>
<path d="M50.69,84.94 L50.39,83.84 L49.28,83.61 L50.23,82.98 L50.11,81.85 L50.99,82.56 L52.03,82.10 L51.63,83.16 L52.39,84.00 L51.26,83.95Z" fill="#e3203f"/>
<path d="M45.13,83.41 L45.06,82.39 L44.12,81.99 L45.06,81.60 L45.15,80.58 L45.81,81.37 L46.81,81.14 L46.27,82.01 L46.79,82.88 L45.80,82.64Z" fill="#e3203f"/>
<path d="M40.84,81.57 L40.91,80.74 L40.21,80.30 L41.02,80.11 L41.22,79.30 L41.65,80.02 L42.48,79.96 L41.94,80.59 L42.25,81.37 L41.48,81.04Z" fill="#e3203f"/>
<path d="M37.98,79.66 L38.13,78.92 L37.54,78.44 L38.30,78.36 L38.57,77.65 L38.88,78.34 L39.64,78.38 L39.07,78.89 L39.27,79.62 L38.61,79.24Z" fill="#e3203f"/>
<path d="M34.94,77.64 L35.16,77.00 L34.69,76.50 L35.37,76.52 L35.70,75.91 L35.90,76.57 L36.57,76.69 L36.01,77.08 L36.10,77.75 L35.56,77.34Z" fill="#e3203f"/>
<path d="M32.43,74.57 L32.71,74.03 L32.35,73.54 L32.95,73.63 L33.30,73.14 L33.40,73.74 L33.98,73.93 L33.44,74.21 L33.44,74.81 L33.01,74.39Z" fill="#e3203f"/>
<line x1="0" y1="256.5" x2="956" y2="256.5" stroke="#d4d4d4" stroke-width="1"/>
<line x1="955.5" y1="14" x2="955.5" y2="497.5" stroke="#d4d4d4" stroke-width="1"/>
<line x1="955.5" y1="33.25" x2="960" y2="33.25" stroke="#888" stroke-width="1"/>
<line x1="955.5" y1="52.5" x2="960" y2="52.5" stroke="#888" stroke-width="1"/>
<line x1="955.5" y1="72.5" x2="960" y2="72.5" stroke="#888" stroke-width="1"/>
<line x1="955.5" y1="92" x2="960" y2="92" stroke="#888" stroke-width="1"/>
<line x1="955.5" y1="112.5" x2="960" y2="112.5" stroke="#888" stroke-width="1"/>
<line x1="955.5" y1="132.5" x2="960" y2="132.5" stroke="#888" stroke-width="1"/>
<line x1="955.5" y1="152" x2="960" y2="152" stroke="#888" stroke-width="1"/>
<line x1="955.5" y1="177.5" x2="960" y2="177.5" stroke="#888" stroke-width="1"/>
<line x1="955.5" y1="198.75" x2="960" y2="198.75" stroke="#888" stroke-width="1"/>
<line x1="955.5" y1="228.25" x2="960" y2="228.25" stroke="#888" stroke-width="1"/>
<line x1="955.5" y1="247.5" x2="960" y2="247.5" stroke="#888" stroke-width="1"/>
<line x1="955.5" y1="40" x2="960" y2="40" stroke="#bbb" stroke-width="1"/>
<line x1="955.5" y1="15" x2="958" y2="15" stroke="#bbb" stroke-width="1"/>
<line x1="955.5" y1="264.3" x2="960" y2="264.3" stroke="#888" stroke-width="1"/>
<line x1="955.5" y1="290" x2="960" y2="290" stroke="#888" stroke-width="1"/>
<line x1="955.5" y1="316.3" x2="960" y2="316.3" stroke="#888" stroke-width="1"/>
<line x1="955.5" y1="342" x2="960" y2="342" stroke="#888" stroke-width="1"/>
<line x1="955.5" y1="368" x2="960" y2="368" stroke="#888" stroke-width="1"/>
<line x1="955.5" y1="394.2" x2="960" y2="394.2" stroke="#888" stroke-width="1"/>
<line x1="955.5" y1="420.7" x2="960" y2="420.7" stroke="#888" stroke-width="1"/>
<line x1="955.5" y1="446.2" x2="960" y2="446.2" stroke="#888" stroke-width="1"/>
<line x1="955.5" y1="472.6" x2="960" y2="472.6" stroke="#888" stroke-width="1"/>
<rect x="959" y="28" width="1" height="23.5" fill="#444"/>
<rect x="959" y="52" width="1" height="23" fill="#4caf50"/>
<line x1="955.5" y1="64.5" x2="960" y2="64.5" stroke="#4caf50" stroke-width="1"/>
<rect x="959" y="324.5" width="1" height="23" fill="#4caf50"/>
<line x1="955.5" y1="336.3" x2="960" y2="336.3" stroke="#4caf50" stroke-width="1"/>
<line x1="0" y1="355.4" x2="848.2" y2="355.4" stroke="#0000ff" stroke-width="1.3" stroke-dasharray="2.4 2.275" stroke-dashoffset="0.575"/>
<polygon points="0.0,421.0 0.0,392.1 0.5,395.0 1.0,393.1 1.5,397.7 2.0,396.2 2.5,403.9 3.1,400.3 3.6,404.9 4.1,406.4 4.6,407.4 5.1,405.4 5.6,401.8 6.1,392.6 6.5,393.5 6.9,393.1 7.6,400.3 8.1,408.3 8.7,413.5 9.2,416.7 9.7,418.6 10.0,421.0 10.2,423.7 10.7,426.4 11.2,431.8 11.6,428.7 12.0,425.7 12.7,423.7 13.2,425.5 13.7,427.8 14.3,421.0 14.8,418.8 15.3,416.6 15.8,416.5 16.3,414.0 16.8,415.8 17.3,415.5 17.8,421.0 18.3,427.8 18.8,424.4 19.3,421.0 19.9,419.4 20.4,416.6 20.9,415.9 21.4,411.5 21.9,415.1 22.4,416.6 22.6,421.0 22.8,422.2 23.2,418.6 23.8,416.6 24.3,413.3 24.9,410.5 25.4,408.8 26.0,408.6 26.5,405.4 27.0,404.8 27.5,404.4 28.0,403.3 28.5,402.6 29.0,400.7 29.5,399.3 30.0,398.9 30.5,394.2 31.1,393.8 31.6,388.6 32.1,399.8 32.6,399.3 33.1,401.1 33.6,398.2 34.1,406.3 34.6,409.4 35.1,411.0 35.6,410.5 36.2,412.5 36.7,411.5 37.2,412.8 37.7,412.5 38.2,414.3 38.7,415.5 39.2,413.9 39.7,406.9 40.2,411.4 40.7,408.4 41.1,408.9 41.5,402.8 42.0,409.0 42.6,410.5 43.1,412.9 43.6,414.5 44.2,415.2 44.8,415.5 45.3,414.3 45.8,412.5 46.3,414.6 46.8,416.6 47.2,419.2 47.7,421.0 48.3,423.2 48.9,425.7 49.4,422.8 49.9,421.0 50.4,416.0 50.9,415.2 51.4,415.6 51.9,412.5 52.5,416.5 53.0,418.0 53.2,421.0 53.6,422.4 54.1,423.7 54.5,425.2 55.0,422.6 55.5,421.0 55.8,416.0 56.4,413.4 57.0,409.4 57.5,413.3 58.0,411.5 58.5,411.5 59.1,410.2 59.6,409.4 60.1,403.6 60.6,404.5 61.1,404.1 61.6,399.2 62.1,396.5 62.6,396.2 63.2,396.8 63.7,401.8 64.2,394.4 64.7,400.4 65.2,397.2 65.7,399.0 66.2,399.5 66.7,394.6 67.2,389.4 67.7,391.5 68.2,379.1 68.7,379.5 69.2,383.1 69.8,381.2 70.3,377.1 70.8,374.9 71.3,379.4 71.8,367.9 72.3,363.9 72.8,371.1 73.3,362.0 73.8,364.7 74.3,358.8 74.8,363.5 75.3,367.1 75.9,382.2 76.4,371.0 76.9,383.1 77.4,378.2 77.9,388.5 78.4,381.2 78.9,379.0 79.4,377.8 79.9,382.2 80.4,367.9 80.9,371.6 81.5,359.3 82.0,372.6 82.5,349.6 83.0,346.6 83.4,342.4 83.9,334.3 84.5,345.2 85.1,320.5 85.6,336.0 86.1,345.5 86.6,352.7 87.1,358.5 87.5,363.9 88.0,368.9 88.5,384.9 89.1,391.7 89.6,401.5 90.1,395.2 90.7,383.7 91.2,371.0 91.7,377.1 92.2,387.1 92.8,381.2 93.3,379.1 93.9,389.6 94.4,398.1 95.0,397.5 95.5,397.3 96.1,396.5 96.6,395.4 97.1,407.3 97.5,412.5 98.0,417.8 98.6,424.0 99.3,435.0 99.8,431.1 100.3,428.0 100.8,424.4 101.2,421.0 101.7,416.8 102.1,410.7 102.6,412.6 103.1,409.0 103.7,411.1 104.2,410.0 104.7,407.6 105.2,404.6 105.7,407.5 106.2,408.3 106.7,409.9 107.2,411.7 107.6,417.6 108.0,421.0 108.4,423.7 108.8,426.5 109.2,423.3 109.6,421.0 110.2,416.7 110.7,413.9 111.3,407.6 111.8,407.2 112.3,403.5 112.7,400.7 113.2,401.8 113.7,395.4 114.3,397.6 114.8,400.1 115.4,401.5 115.9,402.9 116.4,404.2 116.9,401.5 117.4,397.5 117.9,398.0 118.4,402.5 118.9,396.6 119.4,395.4 119.9,396.9 120.5,399.3 121.0,401.7 121.5,401.5 122.0,402.9 122.5,404.4 123.0,406.3 123.5,406.6 124.0,409.5 124.5,409.3 125.0,411.1 125.5,411.7 126.0,413.2 126.5,413.0 127.0,410.9 127.6,410.3 128.1,409.1 128.6,406.6 129.1,407.6 129.6,408.2 130.1,408.9 130.6,409.7 131.1,413.6 131.6,414.1 132.2,416.1 132.7,415.8 133.2,410.7 133.7,407.8 134.2,402.4 134.7,395.4 135.2,398.4 135.8,393.3 136.3,398.7 136.8,388.3 137.3,385.7 137.8,387.0 138.3,387.2 138.8,377.1 139.3,384.5 139.7,378.2 140.2,364.9 140.7,378.1 141.3,383.6 141.8,379.1 142.3,388.2 142.9,378.7 143.4,381.9 143.9,373.0 144.4,381.4 144.9,377.6 145.4,365.3 145.9,356.7 146.4,368.8 147.0,370.1 147.5,354.7 148.0,362.2 148.5,362.7 149.0,352.7 149.5,357.8 149.9,362.4 150.4,354.7 150.9,361.2 151.5,349.7 152.0,346.5 152.6,362.4 153.1,376.0 153.7,364.9 154.2,380.5 154.6,380.3 155.1,375.1 155.6,382.5 156.1,390.7 156.6,392.8 157.1,393.4 157.6,395.2 158.1,398.5 158.7,392.1 159.2,391.4 159.7,399.3 160.2,397.5 160.7,403.2 161.2,403.6 161.7,403.8 162.2,401.2 162.7,402.6 163.2,397.5 163.7,398.2 164.2,397.6 164.8,399.2 165.3,390.3 165.9,403.0 166.3,408.5 166.7,413.0 167.1,421.0 167.4,443.0 167.9,445.0 168.4,445.7 168.9,448.9 169.4,448.3 169.9,456.8 170.4,462.2 171.0,449.8 171.6,438.5 172.1,433.2 172.6,435.6 173.1,435.9 173.6,439.8 174.1,444.4 174.6,444.6 175.1,457.3 175.6,466.7 176.1,462.2 176.6,472.6 177.2,468.4 177.8,466.7 178.3,460.3 178.8,452.7 179.3,457.8 179.9,448.2 180.4,456.3 180.9,441.3 181.4,437.3 181.9,429.6 182.4,431.2 183.0,435.6 183.5,428.5 184.0,422.2 184.3,421.0 184.6,395.4 185.1,393.8 185.6,394.3 186.1,396.1 186.6,387.3 187.1,390.7 187.7,377.1 188.2,387.9 188.7,394.5 189.2,390.6 189.7,393.4 190.2,394.4 190.7,396.7 191.2,396.0 191.7,395.4 192.2,398.6 192.8,402.0 193.3,405.5 193.8,405.6 194.2,405.9 194.7,403.8 195.1,401.5 195.6,403.0 196.1,401.8 196.7,393.7 197.2,387.9 197.7,384.2 198.2,388.6 198.8,399.3 199.3,397.2 199.8,401.5 200.3,405.8 200.8,406.1 201.3,406.1 201.8,406.6 202.3,407.8 202.8,402.6 203.3,400.8 203.8,400.5 204.3,396.5 204.8,398.8 205.3,405.3 205.8,403.9 206.3,405.6 206.8,403.6 207.3,401.1 207.8,401.9 208.3,396.5 208.8,396.9 209.4,396.8 209.9,395.5 210.4,389.3 210.9,394.7 211.4,395.7 211.9,391.1 212.4,384.2 212.9,383.9 213.4,385.3 213.9,381.2 214.4,379.1 215.0,371.3 215.5,368.7 216.1,355.7 216.6,371.0 217.0,367.1 217.5,371.0 218.0,376.9 218.4,381.5 218.9,383.2 219.4,388.8 220.0,386.0 220.5,381.2 221.0,389.6 221.6,394.3 222.1,393.9 222.6,395.4 223.1,400.3 223.6,401.2 224.1,394.8 224.6,394.4 225.1,402.1 225.6,401.1 226.2,398.5 226.7,399.5 227.2,402.7 227.7,405.1 228.2,408.2 228.7,405.6 229.2,403.7 229.7,402.1 230.2,402.1 230.7,393.4 231.2,396.7 231.8,396.3 232.3,388.2 232.8,382.2 233.3,389.6 233.8,387.2 234.3,393.9 234.8,390.3 235.3,396.3 235.8,393.9 236.3,394.3 236.8,388.3 237.3,392.7 237.9,401.6 238.4,405.0 238.9,402.6 239.4,409.5 240.0,409.4 240.5,410.7 241.0,411.3 241.5,407.7 242.0,409.0 242.5,407.3 243.0,401.5 243.5,401.7 244.0,399.6 244.5,400.3 245.0,397.5 245.5,397.7 246.0,397.4 246.5,392.1 247.0,386.3 247.5,384.9 248.0,391.1 248.5,382.2 249.0,388.6 249.5,379.1 250.0,379.6 250.6,380.7 251.1,378.1 251.6,387.5 252.1,381.2 252.6,382.6 253.1,383.2 253.6,388.0 254.1,391.4 254.7,393.8 255.2,387.3 255.7,394.6 256.2,399.4 256.7,396.8 257.2,396.5 257.7,404.7 258.2,401.7 258.7,404.6 259.2,406.6 259.7,406.1 260.2,402.9 260.8,403.5 261.3,397.5 261.8,400.6 262.3,399.5 262.8,402.0 263.3,396.5 263.8,398.6 264.3,396.1 264.9,395.7 265.4,399.2 265.9,399.1 266.4,391.4 266.9,390.2 267.4,394.7 268.0,394.8 268.5,387.3 269.0,381.2 269.5,389.6 269.9,390.1 270.4,393.4 270.9,396.2 271.4,395.7 272.0,396.4 272.5,392.4 273.0,393.7 273.5,401.9 274.0,398.8 274.5,397.5 275.0,398.2 275.6,400.6 276.1,397.6 276.6,393.4 277.1,389.9 277.7,386.4 278.2,373.0 278.7,367.8 279.1,368.7 279.6,356.7 280.1,356.8 280.6,346.5 281.1,368.5 281.6,370.1 282.1,356.7 282.6,363.8 283.2,371.2 283.7,371.0 284.2,380.4 284.6,391.3 285.1,397.5 285.6,400.6 286.0,393.0 286.4,398.1 286.9,391.6 287.3,386.5 287.7,387.0 288.2,384.8 288.6,382.6 289.1,390.6 289.6,389.0 290.1,400.4 290.5,398.1 291.2,399.4 291.8,421.0 292.5,425.3 293.0,429.1 293.5,433.1 294.0,421.0 294.4,419.0 294.8,416.0 295.3,412.4 295.9,408.5 296.4,404.6 296.8,404.4 297.3,403.9 297.7,402.7 298.1,405.3 298.6,402.8 299.0,401.4 299.5,407.7 300.0,412.4 300.4,417.3 300.9,421.0 301.5,425.3 302.1,427.8 302.6,430.5 303.1,427.8 303.5,427.9 303.9,429.1 304.4,429.5 304.8,431.8 305.2,432.7 305.7,434.1 306.1,435.7 306.6,435.8 307.0,439.6 307.4,440.2 307.8,444.1 308.2,441.1 308.7,440.9 309.1,437.8 309.6,435.7 310.0,435.7 310.4,436.3 310.9,437.0 311.3,438.3 311.7,434.8 312.2,433.6 312.6,434.4 313.2,431.2 313.8,430.5 314.2,427.7 314.7,427.7 315.1,427.9 315.5,425.5 316.0,425.6 316.4,424.7 316.9,422.5 317.3,421.0 317.7,412.0 318.4,405.9 318.8,407.6 319.3,406.9 319.7,400.7 320.2,401.1 320.7,400.5 321.2,398.8 321.6,405.4 322.1,402.3 322.5,403.3 322.9,409.8 323.4,410.8 323.8,409.8 324.4,410.4 324.9,411.0 325.5,411.1 325.9,411.9 326.4,409.4 326.8,407.9 327.2,409.5 327.7,413.0 328.1,412.4 328.5,414.4 329.0,416.5 329.4,416.9 329.8,417.8 330.3,418.8 330.7,419.5 331.1,419.0 331.6,417.8 332.0,416.9 332.4,417.4 332.9,418.3 333.3,418.2 333.8,419.9 334.2,421.0 334.9,421.0 335.6,433.0 336.0,430.1 336.5,433.8 336.9,434.4 337.4,431.8 337.8,429.7 338.3,430.3 338.8,431.4 339.2,432.7 339.7,437.2 340.4,450.0 341.1,467.8 341.6,461.7 342.0,457.4 342.5,452.5 343.0,455.9 343.4,459.8 343.9,463.6 344.4,457.1 344.8,455.8 345.3,458.0 345.8,456.4 346.2,463.8 346.7,467.8 347.2,470.8 347.6,474.7 348.1,480.3 348.6,468.9 349.0,483.8 349.6,462.7 350.1,473.3 350.6,457.5 351.0,465.5 351.5,462.2 352.0,461.1 352.4,450.1 352.9,459.4 353.4,453.1 353.8,447.0 354.3,449.7 354.8,445.1 355.2,441.2 355.7,440.0 356.2,440.9 356.6,444.5 357.1,449.7 357.6,446.4 358.0,450.6 358.5,451.1 359.0,444.6 359.4,441.7 359.9,445.6 360.4,443.7 360.8,440.9 361.3,441.4 361.7,438.9 362.2,442.5 362.6,445.6 363.1,446.8 363.5,448.7 364.0,451.1 364.5,447.6 364.9,450.2 365.4,449.7 365.9,443.5 366.3,445.1 366.8,451.8 367.3,444.2 367.7,440.3 368.2,442.8 368.7,437.7 369.1,436.9 369.6,435.8 370.1,432.3 370.5,431.0 371.0,430.3 371.6,424.4 372.1,421.0 372.6,418.4 373.0,414.6 373.5,411.9 374.1,411.6 374.6,405.5 375.1,411.3 375.7,414.5 376.2,416.7 376.7,417.4 377.2,416.5 377.8,417.1 378.3,415.6 378.8,417.4 379.3,417.8 379.8,418.5 380.3,418.7 380.9,420.1 381.5,421.0 382.0,425.2 382.5,430.0 382.9,428.9 383.3,431.0 383.7,426.0 384.1,421.0 384.6,417.6 385.1,413.8 385.6,413.5 386.0,411.7 386.5,410.7 387.0,413.2 387.6,415.7 388.1,416.8 388.6,416.9 389.1,416.0 389.7,416.8 390.2,414.8 390.6,417.1 391.1,418.1 391.6,419.7 392.0,421.0 392.4,422.6 392.8,424.6 393.5,429.8 393.9,430.5 394.3,433.5 394.9,435.1 395.4,438.7 396.1,433.5 396.6,428.7 397.2,429.8 397.8,433.0 398.3,440.2 398.7,440.3 399.1,448.0 399.8,443.1 400.4,437.2 400.9,438.7 401.4,433.3 402.0,437.2 402.6,436.8 403.1,436.5 403.7,435.4 404.3,438.7 405.0,433.5 405.7,423.9 406.3,421.0 406.8,415.0 407.5,416.0 408.0,421.0 408.3,424.6 408.7,426.1 409.1,429.8 409.6,430.5 410.2,432.0 410.9,434.3 411.3,435.7 411.7,439.4 412.4,434.3 412.9,432.4 413.5,430.6 414.1,429.6 414.6,429.1 415.1,429.3 415.7,430.6 416.3,429.4 416.9,428.3 417.6,424.6 418.2,421.0 418.6,418.0 419.0,421.0 419.1,423.9 419.6,425.9 420.2,428.3 420.8,426.0 421.3,426.9 421.9,427.5 422.4,429.8 422.9,429.9 423.5,432.0 424.1,431.8 424.6,439.4 425.0,439.5 425.4,444.6 425.9,435.9 426.5,438.7 427.1,434.6 427.6,435.0 428.1,431.5 428.7,433.5 429.2,435.7 429.8,438.0 430.4,434.5 430.9,435.0 431.4,431.5 432.0,432.8 432.6,428.3 433.1,423.9 433.5,422.1 433.9,421.0 434.3,418.0 434.8,421.0 435.4,426.1 436.1,433.5 436.5,436.2 436.9,439.4 437.3,438.8 437.7,441.7 438.1,441.6 438.5,442.4 438.9,439.3 439.4,440.2 439.8,437.9 440.2,440.9 440.8,438.6 441.3,436.5 441.9,431.1 442.4,432.8 442.9,429.8 443.5,428.3 443.9,424.9 444.3,422.4 444.6,421.0 445.2,396.5 445.7,398.3 446.2,395.2 446.7,393.2 447.2,390.4 447.7,394.6 448.3,393.3 448.8,389.3 449.3,392.9 449.8,398.7 450.3,396.5 450.8,396.9 451.3,395.0 451.8,395.1 452.3,393.4 452.8,391.4 453.4,389.9 453.9,387.3 454.4,394.9 454.9,392.8 455.4,392.4 455.9,402.6 456.5,404.8 457.0,405.6 457.5,401.3 457.9,403.5 458.4,392.4 458.9,397.7 459.4,387.0 459.9,392.9 460.4,381.2 460.9,386.5 461.4,389.2 461.9,388.3 462.4,396.4 463.0,387.5 463.5,385.3 464.0,391.2 464.6,397.9 465.1,392.4 465.6,398.2 466.1,396.8 466.6,395.5 467.1,403.4 467.5,402.9 468.0,399.5 468.5,405.6 469.1,407.1 469.6,410.7 470.1,416.6 470.6,421.0 471.1,419.0 471.7,416.7 472.2,414.4 472.8,415.6 473.3,416.7 473.9,421.0 474.4,431.7 475.0,439.4 475.6,438.9 476.1,442.8 476.6,445.8 477.2,449.4 477.8,444.0 478.3,442.8 478.9,437.1 479.4,437.2 480.0,434.8 480.6,435.0 481.1,433.4 481.7,432.8 482.2,429.4 482.8,428.3 483.4,427.2 483.9,427.2 484.4,426.0 485.0,427.2 485.6,429.0 486.1,432.8 486.6,425.9 487.2,422.8 487.6,421.7 488.1,421.0 488.6,416.0 489.0,416.0 489.4,413.9 489.8,415.6 490.2,417.0 490.6,421.0 491.1,427.2 491.7,421.0 492.4,416.0 492.9,414.6 493.3,413.0 493.9,413.5 494.4,409.4 494.9,413.9 495.3,415.0 495.7,417.0 496.1,417.8 496.7,421.0 497.2,425.0 497.8,421.0 498.3,416.0 498.9,413.9 499.4,412.2 500.0,409.4 500.6,408.5 501.1,408.8 501.7,405.0 502.2,404.4 502.8,399.4 503.2,401.2 503.6,397.2 504.0,402.5 504.4,401.7 505.0,408.9 505.6,410.6 506.1,410.8 506.7,411.0 507.2,410.6 507.8,415.0 508.3,415.0 508.9,416.6 509.4,416.7 510.0,415.6 510.4,415.2 510.9,414.8 511.3,414.4 511.9,416.8 512.4,418.9 512.9,421.0 513.3,425.0 513.8,421.0 514.4,416.0 515.0,411.7 515.5,410.9 516.1,408.3 516.6,408.6 517.1,405.1 517.6,403.3 518.0,406.1 518.5,405.3 518.9,406.1 519.5,406.0 520.0,408.1 520.6,405.6 521.2,410.5 521.7,412.8 522.2,412.8 522.8,410.9 523.3,408.9 523.9,409.8 524.4,408.8 525.0,408.3 525.5,410.1 526.1,410.6 526.7,415.0 527.2,416.7 527.8,418.5 528.3,418.9 528.9,421.0 529.4,423.9 530.0,423.2 530.6,422.5 531.2,422.7 531.7,423.0 532.2,423.8 532.8,426.1 533.3,426.3 533.9,428.3 534.5,428.7 535.0,432.8 535.5,433.5 536.1,435.0 536.7,434.4 537.2,436.1 537.8,438.2 538.3,441.7 538.8,435.7 539.4,437.2 540.0,436.2 540.6,437.2 541.2,435.1 541.7,437.8 542.2,433.4 542.8,438.3 543.3,436.4 543.9,436.1 544.5,432.4 545.0,431.7 545.5,429.3 546.1,430.6 546.7,429.5 547.2,433.9 547.8,430.8 548.3,429.4 548.8,426.8 549.4,425.0 550.0,424.0 550.6,423.0 551.1,421.0 551.7,413.9 552.2,415.0 552.8,412.5 553.3,411.7 553.9,409.9 554.4,409.5 555.0,406.1 555.6,406.2 556.1,406.0 556.7,401.7 557.2,400.6 557.8,404.7 558.3,409.9 558.9,410.6 559.4,409.1 560.0,407.8 560.5,405.8 561.0,409.2 561.5,408.4 562.1,410.2 562.6,410.9 563.1,413.3 563.6,413.8 564.1,413.6 564.6,414.0 565.1,413.6 565.7,413.4 566.2,413.9 566.7,411.9 567.2,409.0 567.8,404.6 568.3,400.7 568.8,401.3 569.2,397.2 569.7,390.5 570.2,398.3 570.6,398.8 571.1,391.6 571.7,399.0 572.2,394.6 572.8,392.6 573.3,394.5 573.7,384.9 574.2,378.3 574.7,380.1 575.1,380.7 575.6,388.4 576.0,387.4 576.5,376.7 577.0,381.2 577.6,385.1 578.1,385.8 578.6,389.7 579.2,391.3 579.7,393.3 580.2,393.0 580.7,395.6 581.2,395.2 581.6,398.4 582.1,401.1 582.6,397.0 583.1,401.7 583.7,405.8 584.2,405.9 584.7,406.2 585.2,406.8 585.7,409.3 586.2,410.2 586.7,407.2 587.2,405.1 587.7,401.6 588.2,401.1 588.7,396.0 589.2,398.4 589.8,398.1 590.3,401.5 590.8,394.0 591.3,398.2 591.8,399.9 592.3,394.9 592.8,395.0 593.3,395.7 593.8,396.0 594.3,387.6 594.8,384.8 595.4,386.4 595.9,393.5 596.5,388.9 597.0,397.9 597.6,392.5 598.1,394.0 598.6,393.7 599.0,385.0 599.5,379.7 600.0,388.8 600.5,389.2 601.1,387.0 601.6,387.9 602.1,388.9 602.6,394.1 603.1,391.4 603.6,387.9 604.1,395.1 604.6,392.6 605.1,393.3 605.6,393.0 606.1,399.3 606.7,394.7 607.2,391.5 607.7,386.8 608.2,386.9 608.7,385.9 609.2,382.3 609.7,370.5 610.2,378.5 610.6,363.5 611.1,353.2 611.7,372.0 612.2,373.3 612.8,370.5 613.3,383.6 613.8,384.8 614.3,387.3 614.8,380.7 615.3,392.5 615.8,395.8 616.3,394.4 616.8,393.0 617.3,396.6 617.8,398.9 618.4,400.4 618.9,396.0 619.4,398.6 619.9,399.3 620.4,398.7 620.9,399.1 621.4,407.4 622.0,413.0 622.5,415.3 623.0,415.0 623.6,414.1 624.1,413.3 624.6,412.5 625.1,412.0 625.6,410.2 626.1,407.8 626.6,404.1 627.3,417.3 627.8,418.9 628.2,419.0 628.7,419.9 629.3,421.0 629.7,423.4 630.2,427.5 630.7,428.2 631.2,429.6 631.7,434.0 632.2,438.7 632.7,444.9 633.2,438.8 633.8,438.7 634.3,434.5 634.8,436.7 635.5,443.8 635.9,438.3 636.3,433.6 636.8,432.5 637.3,431.6 637.8,431.1 638.3,432.6 638.8,427.6 639.4,424.5 639.9,421.0 640.6,416.0 641.0,415.8 641.4,412.2 641.8,414.6 642.3,417.0 642.9,421.0 643.4,429.6 644.0,430.0 644.5,430.6 645.0,427.4 645.5,424.5 646.0,424.0 646.5,423.7 647.0,423.4 647.5,424.3 648.0,426.5 648.7,433.6 649.2,429.8 649.6,428.5 650.1,426.3 650.6,424.5 651.1,425.1 651.6,425.6 652.1,426.5 652.6,428.9 653.1,431.6 653.6,428.0 654.1,427.5 654.7,425.8 655.2,424.5 655.7,423.0 656.2,422.0 656.7,421.0 657.1,418.2 657.5,414.0 658.0,412.5 658.5,409.2 658.9,412.9 659.3,416.0 659.8,421.0 660.5,424.5 660.9,423.5 661.3,424.0 661.8,421.0 662.5,418.0 662.9,418.2 663.4,416.9 663.8,416.0 664.3,416.0 664.9,416.4 665.4,414.2 665.9,421.0 666.4,422.5 666.9,421.0 667.4,414.0 667.9,410.2 668.4,408.0 668.9,403.0 669.5,388.0 670.0,392.6 670.6,395.5 671.1,399.2 671.6,405.0 672.1,404.0 672.6,401.4 673.1,400.3 673.6,403.8 674.0,405.0 674.5,405.3 675.0,406.1 675.5,412.8 676.1,413.3 676.6,416.2 677.1,417.3 677.6,417.1 678.1,416.6 678.6,416.3 679.1,418.6 679.6,420.4 680.1,421.0 680.7,423.4 681.2,425.6 681.7,428.5 682.2,431.1 682.7,438.7 683.4,439.8 683.8,433.6 684.2,432.6 684.7,429.8 685.2,429.6 685.8,429.9 686.3,430.6 686.8,432.9 687.3,435.7 687.8,436.4 688.3,438.7 688.8,440.0 689.3,442.8 689.8,439.8 690.3,447.9 690.8,442.4 691.4,441.8 692.0,440.2 692.6,444.9 693.0,438.6 693.4,445.9 693.9,441.5 694.4,438.7 694.9,432.7 695.4,429.6 696.0,427.9 696.5,426.5 696.9,423.2 697.3,421.0 697.7,419.2 698.2,418.1 698.6,415.5 699.1,414.7 699.6,412.7 700.1,408.0 700.6,405.4 701.1,404.0 701.7,404.6 702.2,399.4 702.7,397.2 703.2,402.7 703.7,405.8 704.2,411.3 704.7,411.5 705.2,411.8 705.8,412.0 706.3,409.0 706.8,407.4 707.3,406.4 707.8,400.0 708.3,400.4 708.8,389.1 709.3,387.7 709.7,393.1 710.2,384.0 710.7,386.6 711.3,391.2 711.8,389.1 712.4,391.9 712.9,388.3 713.5,387.0 714.0,397.0 714.5,395.5 715.0,398.9 715.5,401.3 716.0,403.2 716.5,405.6 717.0,407.9 717.5,408.4 718.0,410.1 718.5,408.2 719.1,409.1 719.6,406.4 720.1,406.0 720.6,406.4 721.1,406.2 721.6,404.3 722.1,410.4 722.7,411.5 723.2,412.7 723.7,413.5 724.2,414.3 724.7,415.4 725.2,416.7 725.7,416.6 726.2,418.9 726.8,421.0 727.5,433.9 728.2,421.0 728.7,418.8 729.3,416.4 729.8,413.5 730.3,413.0 730.8,414.9 731.3,413.8 731.8,411.5 732.3,409.8 732.8,409.2 733.3,406.0 733.8,403.3 734.3,404.9 734.8,406.2 735.4,405.6 735.9,405.4 736.4,407.0 736.9,407.9 737.4,409.7 737.9,408.4 738.4,409.6 738.9,410.2 739.4,412.5 739.9,411.5 740.4,410.3 741.0,411.3 741.5,408.0 742.0,404.5 742.6,404.3 743.1,398.4 743.7,393.5 744.2,396.5 744.7,386.6 745.2,383.3 745.7,379.2 746.2,377.5 746.7,382.3 747.2,381.1 747.7,371.1 748.2,374.8 748.7,379.7 749.2,379.2 749.7,387.1 750.1,382.2 750.6,375.2 751.1,378.9 751.7,383.2 752.2,385.4 752.7,387.5 753.2,388.8 753.8,392.2 754.3,391.5 754.8,389.6 755.3,395.7 755.8,388.1 756.3,383.3 756.8,387.6 757.3,389.7 757.8,391.7 758.3,385.4 758.8,392.2 759.3,386.3 759.9,385.1 760.4,382.3 760.9,384.7 761.4,381.3 761.9,383.7 762.4,380.3 762.9,385.9 763.4,389.5 763.9,385.2 764.4,375.2 765.0,383.2 765.5,383.6 766.1,379.2 766.6,377.6 767.0,378.3 767.5,374.2 768.0,380.9 768.5,388.5 769.0,387.5 769.5,391.5 770.0,392.9 770.5,393.6 771.1,396.0 771.6,389.4 772.1,399.2 772.5,400.7 773.0,401.6 773.5,399.3 774.1,400.9 774.6,393.5 775.1,398.6 775.7,393.0 776.2,389.4 776.7,385.4 777.2,388.2 777.7,384.4 778.2,389.5 778.7,382.3 779.2,392.9 779.7,386.3 780.2,388.9 780.7,382.3 781.2,388.0 781.8,376.8 782.3,384.9 782.8,369.1 783.3,373.0 783.8,362.9 784.3,358.1 784.8,353.8 785.3,359.0 785.9,367.4 786.4,363.0 786.9,374.6 787.5,370.9 788.0,383.2 788.5,373.1 789.0,375.1 789.4,375.5 789.9,370.1 790.4,372.5 791.0,386.4 791.5,376.1 792.0,377.2 792.5,388.3 793.0,383.5 793.5,384.4 794.0,380.3 794.5,386.2 795.0,384.3 795.5,393.1 796.0,385.4 796.5,394.7 796.9,391.7 797.4,383.3 798.0,384.7 798.5,375.7 799.1,371.1 799.6,380.4 800.1,370.3 800.6,379.5 801.1,365.0 801.6,357.5 802.1,345.6 802.6,350.8 803.1,336.5 803.6,336.5 803.6,421.0" fill="#008000" clip-path="url(#cpos)"/>
<polygon points="0.0,421.0 0.0,392.1 0.5,395.0 1.0,393.1 1.5,397.7 2.0,396.2 2.5,403.9 3.1,400.3 3.6,404.9 4.1,406.4 4.6,407.4 5.1,405.4 5.6,401.8 6.1,392.6 6.5,393.5 6.9,393.1 7.6,400.3 8.1,408.3 8.7,413.5 9.2,416.7 9.7,418.6 10.0,421.0 10.2,423.7 10.7,426.4 11.2,431.8 11.6,428.7 12.0,425.7 12.7,423.7 13.2,425.5 13.7,427.8 14.3,421.0 14.8,418.8 15.3,416.6 15.8,416.5 16.3,414.0 16.8,415.8 17.3,415.5 17.8,421.0 18.3,427.8 18.8,424.4 19.3,421.0 19.9,419.4 20.4,416.6 20.9,415.9 21.4,411.5 21.9,415.1 22.4,416.6 22.6,421.0 22.8,422.2 23.2,418.6 23.8,416.6 24.3,413.3 24.9,410.5 25.4,408.8 26.0,408.6 26.5,405.4 27.0,404.8 27.5,404.4 28.0,403.3 28.5,402.6 29.0,400.7 29.5,399.3 30.0,398.9 30.5,394.2 31.1,393.8 31.6,388.6 32.1,399.8 32.6,399.3 33.1,401.1 33.6,398.2 34.1,406.3 34.6,409.4 35.1,411.0 35.6,410.5 36.2,412.5 36.7,411.5 37.2,412.8 37.7,412.5 38.2,414.3 38.7,415.5 39.2,413.9 39.7,406.9 40.2,411.4 40.7,408.4 41.1,408.9 41.5,402.8 42.0,409.0 42.6,410.5 43.1,412.9 43.6,414.5 44.2,415.2 44.8,415.5 45.3,414.3 45.8,412.5 46.3,414.6 46.8,416.6 47.2,419.2 47.7,421.0 48.3,423.2 48.9,425.7 49.4,422.8 49.9,421.0 50.4,416.0 50.9,415.2 51.4,415.6 51.9,412.5 52.5,416.5 53.0,418.0 53.2,421.0 53.6,422.4 54.1,423.7 54.5,425.2 55.0,422.6 55.5,421.0 55.8,416.0 56.4,413.4 57.0,409.4 57.5,413.3 58.0,411.5 58.5,411.5 59.1,410.2 59.6,409.4 60.1,403.6 60.6,404.5 61.1,404.1 61.6,399.2 62.1,396.5 62.6,396.2 63.2,396.8 63.7,401.8 64.2,394.4 64.7,400.4 65.2,397.2 65.7,399.0 66.2,399.5 66.7,394.6 67.2,389.4 67.7,391.5 68.2,379.1 68.7,379.5 69.2,383.1 69.8,381.2 70.3,377.1 70.8,374.9 71.3,379.4 71.8,367.9 72.3,363.9 72.8,371.1 73.3,362.0 73.8,364.7 74.3,358.8 74.8,363.5 75.3,367.1 75.9,382.2 76.4,371.0 76.9,383.1 77.4,378.2 77.9,388.5 78.4,381.2 78.9,379.0 79.4,377.8 79.9,382.2 80.4,367.9 80.9,371.6 81.5,359.3 82.0,372.6 82.5,349.6 83.0,346.6 83.4,342.4 83.9,334.3 84.5,345.2 85.1,320.5 85.6,336.0 86.1,345.5 86.6,352.7 87.1,358.5 87.5,363.9 88.0,368.9 88.5,384.9 89.1,391.7 89.6,401.5 90.1,395.2 90.7,383.7 91.2,371.0 91.7,377.1 92.2,387.1 92.8,381.2 93.3,379.1 93.9,389.6 94.4,398.1 95.0,397.5 95.5,397.3 96.1,396.5 96.6,395.4 97.1,407.3 97.5,412.5 98.0,417.8 98.6,424.0 99.3,435.0 99.8,431.1 100.3,428.0 100.8,424.4 101.2,421.0 101.7,416.8 102.1,410.7 102.6,412.6 103.1,409.0 103.7,411.1 104.2,410.0 104.7,407.6 105.2,404.6 105.7,407.5 106.2,408.3 106.7,409.9 107.2,411.7 107.6,417.6 108.0,421.0 108.4,423.7 108.8,426.5 109.2,423.3 109.6,421.0 110.2,416.7 110.7,413.9 111.3,407.6 111.8,407.2 112.3,403.5 112.7,400.7 113.2,401.8 113.7,395.4 114.3,397.6 114.8,400.1 115.4,401.5 115.9,402.9 116.4,404.2 116.9,401.5 117.4,397.5 117.9,398.0 118.4,402.5 118.9,396.6 119.4,395.4 119.9,396.9 120.5,399.3 121.0,401.7 121.5,401.5 122.0,402.9 122.5,404.4 123.0,406.3 123.5,406.6 124.0,409.5 124.5,409.3 125.0,411.1 125.5,411.7 126.0,413.2 126.5,413.0 127.0,410.9 127.6,410.3 128.1,409.1 128.6,406.6 129.1,407.6 129.6,408.2 130.1,408.9 130.6,409.7 131.1,413.6 131.6,414.1 132.2,416.1 132.7,415.8 133.2,410.7 133.7,407.8 134.2,402.4 134.7,395.4 135.2,398.4 135.8,393.3 136.3,398.7 136.8,388.3 137.3,385.7 137.8,387.0 138.3,387.2 138.8,377.1 139.3,384.5 139.7,378.2 140.2,364.9 140.7,378.1 141.3,383.6 141.8,379.1 142.3,388.2 142.9,378.7 143.4,381.9 143.9,373.0 144.4,381.4 144.9,377.6 145.4,365.3 145.9,356.7 146.4,368.8 147.0,370.1 147.5,354.7 148.0,362.2 148.5,362.7 149.0,352.7 149.5,357.8 149.9,362.4 150.4,354.7 150.9,361.2 151.5,349.7 152.0,346.5 152.6,362.4 153.1,376.0 153.7,364.9 154.2,380.5 154.6,380.3 155.1,375.1 155.6,382.5 156.1,390.7 156.6,392.8 157.1,393.4 157.6,395.2 158.1,398.5 158.7,392.1 159.2,391.4 159.7,399.3 160.2,397.5 160.7,403.2 161.2,403.6 161.7,403.8 162.2,401.2 162.7,402.6 163.2,397.5 163.7,398.2 164.2,397.6 164.8,399.2 165.3,390.3 165.9,403.0 166.3,408.5 166.7,413.0 167.1,421.0 167.4,443.0 167.9,445.0 168.4,445.7 168.9,448.9 169.4,448.3 169.9,456.8 170.4,462.2 171.0,449.8 171.6,438.5 172.1,433.2 172.6,435.6 173.1,435.9 173.6,439.8 174.1,444.4 174.6,444.6 175.1,457.3 175.6,466.7 176.1,462.2 176.6,472.6 177.2,468.4 177.8,466.7 178.3,460.3 178.8,452.7 179.3,457.8 179.9,448.2 180.4,456.3 180.9,441.3 181.4,437.3 181.9,429.6 182.4,431.2 183.0,435.6 183.5,428.5 184.0,422.2 184.3,421.0 184.6,395.4 185.1,393.8 185.6,394.3 186.1,396.1 186.6,387.3 187.1,390.7 187.7,377.1 188.2,387.9 188.7,394.5 189.2,390.6 189.7,393.4 190.2,394.4 190.7,396.7 191.2,396.0 191.7,395.4 192.2,398.6 192.8,402.0 193.3,405.5 193.8,405.6 194.2,405.9 194.7,403.8 195.1,401.5 195.6,403.0 196.1,401.8 196.7,393.7 197.2,387.9 197.7,384.2 198.2,388.6 198.8,399.3 199.3,397.2 199.8,401.5 200.3,405.8 200.8,406.1 201.3,406.1 201.8,406.6 202.3,407.8 202.8,402.6 203.3,400.8 203.8,400.5 204.3,396.5 204.8,398.8 205.3,405.3 205.8,403.9 206.3,405.6 206.8,403.6 207.3,401.1 207.8,401.9 208.3,396.5 208.8,396.9 209.4,396.8 209.9,395.5 210.4,389.3 210.9,394.7 211.4,395.7 211.9,391.1 212.4,384.2 212.9,383.9 213.4,385.3 213.9,381.2 214.4,379.1 215.0,371.3 215.5,368.7 216.1,355.7 216.6,371.0 217.0,367.1 217.5,371.0 218.0,376.9 218.4,381.5 218.9,383.2 219.4,388.8 220.0,386.0 220.5,381.2 221.0,389.6 221.6,394.3 222.1,393.9 222.6,395.4 223.1,400.3 223.6,401.2 224.1,394.8 224.6,394.4 225.1,402.1 225.6,401.1 226.2,398.5 226.7,399.5 227.2,402.7 227.7,405.1 228.2,408.2 228.7,405.6 229.2,403.7 229.7,402.1 230.2,402.1 230.7,393.4 231.2,396.7 231.8,396.3 232.3,388.2 232.8,382.2 233.3,389.6 233.8,387.2 234.3,393.9 234.8,390.3 235.3,396.3 235.8,393.9 236.3,394.3 236.8,388.3 237.3,392.7 237.9,401.6 238.4,405.0 238.9,402.6 239.4,409.5 240.0,409.4 240.5,410.7 241.0,411.3 241.5,407.7 242.0,409.0 242.5,407.3 243.0,401.5 243.5,401.7 244.0,399.6 244.5,400.3 245.0,397.5 245.5,397.7 246.0,397.4 246.5,392.1 247.0,386.3 247.5,384.9 248.0,391.1 248.5,382.2 249.0,388.6 249.5,379.1 250.0,379.6 250.6,380.7 251.1,378.1 251.6,387.5 252.1,381.2 252.6,382.6 253.1,383.2 253.6,388.0 254.1,391.4 254.7,393.8 255.2,387.3 255.7,394.6 256.2,399.4 256.7,396.8 257.2,396.5 257.7,404.7 258.2,401.7 258.7,404.6 259.2,406.6 259.7,406.1 260.2,402.9 260.8,403.5 261.3,397.5 261.8,400.6 262.3,399.5 262.8,402.0 263.3,396.5 263.8,398.6 264.3,396.1 264.9,395.7 265.4,399.2 265.9,399.1 266.4,391.4 266.9,390.2 267.4,394.7 268.0,394.8 268.5,387.3 269.0,381.2 269.5,389.6 269.9,390.1 270.4,393.4 270.9,396.2 271.4,395.7 272.0,396.4 272.5,392.4 273.0,393.7 273.5,401.9 274.0,398.8 274.5,397.5 275.0,398.2 275.6,400.6 276.1,397.6 276.6,393.4 277.1,389.9 277.7,386.4 278.2,373.0 278.7,367.8 279.1,368.7 279.6,356.7 280.1,356.8 280.6,346.5 281.1,368.5 281.6,370.1 282.1,356.7 282.6,363.8 283.2,371.2 283.7,371.0 284.2,380.4 284.6,391.3 285.1,397.5 285.6,400.6 286.0,393.0 286.4,398.1 286.9,391.6 287.3,386.5 287.7,387.0 288.2,384.8 288.6,382.6 289.1,390.6 289.6,389.0 290.1,400.4 290.5,398.1 291.2,399.4 291.8,421.0 292.5,425.3 293.0,429.1 293.5,433.1 294.0,421.0 294.4,419.0 294.8,416.0 295.3,412.4 295.9,408.5 296.4,404.6 296.8,404.4 297.3,403.9 297.7,402.7 298.1,405.3 298.6,402.8 299.0,401.4 299.5,407.7 300.0,412.4 300.4,417.3 300.9,421.0 301.5,425.3 302.1,427.8 302.6,430.5 303.1,427.8 303.5,427.9 303.9,429.1 304.4,429.5 304.8,431.8 305.2,432.7 305.7,434.1 306.1,435.7 306.6,435.8 307.0,439.6 307.4,440.2 307.8,444.1 308.2,441.1 308.7,440.9 309.1,437.8 309.6,435.7 310.0,435.7 310.4,436.3 310.9,437.0 311.3,438.3 311.7,434.8 312.2,433.6 312.6,434.4 313.2,431.2 313.8,430.5 314.2,427.7 314.7,427.7 315.1,427.9 315.5,425.5 316.0,425.6 316.4,424.7 316.9,422.5 317.3,421.0 317.7,412.0 318.4,405.9 318.8,407.6 319.3,406.9 319.7,400.7 320.2,401.1 320.7,400.5 321.2,398.8 321.6,405.4 322.1,402.3 322.5,403.3 322.9,409.8 323.4,410.8 323.8,409.8 324.4,410.4 324.9,411.0 325.5,411.1 325.9,411.9 326.4,409.4 326.8,407.9 327.2,409.5 327.7,413.0 328.1,412.4 328.5,414.4 329.0,416.5 329.4,416.9 329.8,417.8 330.3,418.8 330.7,419.5 331.1,419.0 331.6,417.8 332.0,416.9 332.4,417.4 332.9,418.3 333.3,418.2 333.8,419.9 334.2,421.0 334.9,421.0 335.6,433.0 336.0,430.1 336.5,433.8 336.9,434.4 337.4,431.8 337.8,429.7 338.3,430.3 338.8,431.4 339.2,432.7 339.7,437.2 340.4,450.0 341.1,467.8 341.6,461.7 342.0,457.4 342.5,452.5 343.0,455.9 343.4,459.8 343.9,463.6 344.4,457.1 344.8,455.8 345.3,458.0 345.8,456.4 346.2,463.8 346.7,467.8 347.2,470.8 347.6,474.7 348.1,480.3 348.6,468.9 349.0,483.8 349.6,462.7 350.1,473.3 350.6,457.5 351.0,465.5 351.5,462.2 352.0,461.1 352.4,450.1 352.9,459.4 353.4,453.1 353.8,447.0 354.3,449.7 354.8,445.1 355.2,441.2 355.7,440.0 356.2,440.9 356.6,444.5 357.1,449.7 357.6,446.4 358.0,450.6 358.5,451.1 359.0,444.6 359.4,441.7 359.9,445.6 360.4,443.7 360.8,440.9 361.3,441.4 361.7,438.9 362.2,442.5 362.6,445.6 363.1,446.8 363.5,448.7 364.0,451.1 364.5,447.6 364.9,450.2 365.4,449.7 365.9,443.5 366.3,445.1 366.8,451.8 367.3,444.2 367.7,440.3 368.2,442.8 368.7,437.7 369.1,436.9 369.6,435.8 370.1,432.3 370.5,431.0 371.0,430.3 371.6,424.4 372.1,421.0 372.6,418.4 373.0,414.6 373.5,411.9 374.1,411.6 374.6,405.5 375.1,411.3 375.7,414.5 376.2,416.7 376.7,417.4 377.2,416.5 377.8,417.1 378.3,415.6 378.8,417.4 379.3,417.8 379.8,418.5 380.3,418.7 380.9,420.1 381.5,421.0 382.0,425.2 382.5,430.0 382.9,428.9 383.3,431.0 383.7,426.0 384.1,421.0 384.6,417.6 385.1,413.8 385.6,413.5 386.0,411.7 386.5,410.7 387.0,413.2 387.6,415.7 388.1,416.8 388.6,416.9 389.1,416.0 389.7,416.8 390.2,414.8 390.6,417.1 391.1,418.1 391.6,419.7 392.0,421.0 392.4,422.6 392.8,424.6 393.5,429.8 393.9,430.5 394.3,433.5 394.9,435.1 395.4,438.7 396.1,433.5 396.6,428.7 397.2,429.8 397.8,433.0 398.3,440.2 398.7,440.3 399.1,448.0 399.8,443.1 400.4,437.2 400.9,438.7 401.4,433.3 402.0,437.2 402.6,436.8 403.1,436.5 403.7,435.4 404.3,438.7 405.0,433.5 405.7,423.9 406.3,421.0 406.8,415.0 407.5,416.0 408.0,421.0 408.3,424.6 408.7,426.1 409.1,429.8 409.6,430.5 410.2,432.0 410.9,434.3 411.3,435.7 411.7,439.4 412.4,434.3 412.9,432.4 413.5,430.6 414.1,429.6 414.6,429.1 415.1,429.3 415.7,430.6 416.3,429.4 416.9,428.3 417.6,424.6 418.2,421.0 418.6,418.0 419.0,421.0 419.1,423.9 419.6,425.9 420.2,428.3 420.8,426.0 421.3,426.9 421.9,427.5 422.4,429.8 422.9,429.9 423.5,432.0 424.1,431.8 424.6,439.4 425.0,439.5 425.4,444.6 425.9,435.9 426.5,438.7 427.1,434.6 427.6,435.0 428.1,431.5 428.7,433.5 429.2,435.7 429.8,438.0 430.4,434.5 430.9,435.0 431.4,431.5 432.0,432.8 432.6,428.3 433.1,423.9 433.5,422.1 433.9,421.0 434.3,418.0 434.8,421.0 435.4,426.1 436.1,433.5 436.5,436.2 436.9,439.4 437.3,438.8 437.7,441.7 438.1,441.6 438.5,442.4 438.9,439.3 439.4,440.2 439.8,437.9 440.2,440.9 440.8,438.6 441.3,436.5 441.9,431.1 442.4,432.8 442.9,429.8 443.5,428.3 443.9,424.9 444.3,422.4 444.6,421.0 445.2,396.5 445.7,398.3 446.2,395.2 446.7,393.2 447.2,390.4 447.7,394.6 448.3,393.3 448.8,389.3 449.3,392.9 449.8,398.7 450.3,396.5 450.8,396.9 451.3,395.0 451.8,395.1 452.3,393.4 452.8,391.4 453.4,389.9 453.9,387.3 454.4,394.9 454.9,392.8 455.4,392.4 455.9,402.6 456.5,404.8 457.0,405.6 457.5,401.3 457.9,403.5 458.4,392.4 458.9,397.7 459.4,387.0 459.9,392.9 460.4,381.2 460.9,386.5 461.4,389.2 461.9,388.3 462.4,396.4 463.0,387.5 463.5,385.3 464.0,391.2 464.6,397.9 465.1,392.4 465.6,398.2 466.1,396.8 466.6,395.5 467.1,403.4 467.5,402.9 468.0,399.5 468.5,405.6 469.1,407.1 469.6,410.7 470.1,416.6 470.6,421.0 471.1,419.0 471.7,416.7 472.2,414.4 472.8,415.6 473.3,416.7 473.9,421.0 474.4,431.7 475.0,439.4 475.6,438.9 476.1,442.8 476.6,445.8 477.2,449.4 477.8,444.0 478.3,442.8 478.9,437.1 479.4,437.2 480.0,434.8 480.6,435.0 481.1,433.4 481.7,432.8 482.2,429.4 482.8,428.3 483.4,427.2 483.9,427.2 484.4,426.0 485.0,427.2 485.6,429.0 486.1,432.8 486.6,425.9 487.2,422.8 487.6,421.7 488.1,421.0 488.6,416.0 489.0,416.0 489.4,413.9 489.8,415.6 490.2,417.0 490.6,421.0 491.1,427.2 491.7,421.0 492.4,416.0 492.9,414.6 493.3,413.0 493.9,413.5 494.4,409.4 494.9,413.9 495.3,415.0 495.7,417.0 496.1,417.8 496.7,421.0 497.2,425.0 497.8,421.0 498.3,416.0 498.9,413.9 499.4,412.2 500.0,409.4 500.6,408.5 501.1,408.8 501.7,405.0 502.2,404.4 502.8,399.4 503.2,401.2 503.6,397.2 504.0,402.5 504.4,401.7 505.0,408.9 505.6,410.6 506.1,410.8 506.7,411.0 507.2,410.6 507.8,415.0 508.3,415.0 508.9,416.6 509.4,416.7 510.0,415.6 510.4,415.2 510.9,414.8 511.3,414.4 511.9,416.8 512.4,418.9 512.9,421.0 513.3,425.0 513.8,421.0 514.4,416.0 515.0,411.7 515.5,410.9 516.1,408.3 516.6,408.6 517.1,405.1 517.6,403.3 518.0,406.1 518.5,405.3 518.9,406.1 519.5,406.0 520.0,408.1 520.6,405.6 521.2,410.5 521.7,412.8 522.2,412.8 522.8,410.9 523.3,408.9 523.9,409.8 524.4,408.8 525.0,408.3 525.5,410.1 526.1,410.6 526.7,415.0 527.2,416.7 527.8,418.5 528.3,418.9 528.9,421.0 529.4,423.9 530.0,423.2 530.6,422.5 531.2,422.7 531.7,423.0 532.2,423.8 532.8,426.1 533.3,426.3 533.9,428.3 534.5,428.7 535.0,432.8 535.5,433.5 536.1,435.0 536.7,434.4 537.2,436.1 537.8,438.2 538.3,441.7 538.8,435.7 539.4,437.2 540.0,436.2 540.6,437.2 541.2,435.1 541.7,437.8 542.2,433.4 542.8,438.3 543.3,436.4 543.9,436.1 544.5,432.4 545.0,431.7 545.5,429.3 546.1,430.6 546.7,429.5 547.2,433.9 547.8,430.8 548.3,429.4 548.8,426.8 549.4,425.0 550.0,424.0 550.6,423.0 551.1,421.0 551.7,413.9 552.2,415.0 552.8,412.5 553.3,411.7 553.9,409.9 554.4,409.5 555.0,406.1 555.6,406.2 556.1,406.0 556.7,401.7 557.2,400.6 557.8,404.7 558.3,409.9 558.9,410.6 559.4,409.1 560.0,407.8 560.5,405.8 561.0,409.2 561.5,408.4 562.1,410.2 562.6,410.9 563.1,413.3 563.6,413.8 564.1,413.6 564.6,414.0 565.1,413.6 565.7,413.4 566.2,413.9 566.7,411.9 567.2,409.0 567.8,404.6 568.3,400.7 568.8,401.3 569.2,397.2 569.7,390.5 570.2,398.3 570.6,398.8 571.1,391.6 571.7,399.0 572.2,394.6 572.8,392.6 573.3,394.5 573.7,384.9 574.2,378.3 574.7,380.1 575.1,380.7 575.6,388.4 576.0,387.4 576.5,376.7 577.0,381.2 577.6,385.1 578.1,385.8 578.6,389.7 579.2,391.3 579.7,393.3 580.2,393.0 580.7,395.6 581.2,395.2 581.6,398.4 582.1,401.1 582.6,397.0 583.1,401.7 583.7,405.8 584.2,405.9 584.7,406.2 585.2,406.8 585.7,409.3 586.2,410.2 586.7,407.2 587.2,405.1 587.7,401.6 588.2,401.1 588.7,396.0 589.2,398.4 589.8,398.1 590.3,401.5 590.8,394.0 591.3,398.2 591.8,399.9 592.3,394.9 592.8,395.0 593.3,395.7 593.8,396.0 594.3,387.6 594.8,384.8 595.4,386.4 595.9,393.5 596.5,388.9 597.0,397.9 597.6,392.5 598.1,394.0 598.6,393.7 599.0,385.0 599.5,379.7 600.0,388.8 600.5,389.2 601.1,387.0 601.6,387.9 602.1,388.9 602.6,394.1 603.1,391.4 603.6,387.9 604.1,395.1 604.6,392.6 605.1,393.3 605.6,393.0 606.1,399.3 606.7,394.7 607.2,391.5 607.7,386.8 608.2,386.9 608.7,385.9 609.2,382.3 609.7,370.5 610.2,378.5 610.6,363.5 611.1,353.2 611.7,372.0 612.2,373.3 612.8,370.5 613.3,383.6 613.8,384.8 614.3,387.3 614.8,380.7 615.3,392.5 615.8,395.8 616.3,394.4 616.8,393.0 617.3,396.6 617.8,398.9 618.4,400.4 618.9,396.0 619.4,398.6 619.9,399.3 620.4,398.7 620.9,399.1 621.4,407.4 622.0,413.0 622.5,415.3 623.0,415.0 623.6,414.1 624.1,413.3 624.6,412.5 625.1,412.0 625.6,410.2 626.1,407.8 626.6,404.1 627.3,417.3 627.8,418.9 628.2,419.0 628.7,419.9 629.3,421.0 629.7,423.4 630.2,427.5 630.7,428.2 631.2,429.6 631.7,434.0 632.2,438.7 632.7,444.9 633.2,438.8 633.8,438.7 634.3,434.5 634.8,436.7 635.5,443.8 635.9,438.3 636.3,433.6 636.8,432.5 637.3,431.6 637.8,431.1 638.3,432.6 638.8,427.6 639.4,424.5 639.9,421.0 640.6,416.0 641.0,415.8 641.4,412.2 641.8,414.6 642.3,417.0 642.9,421.0 643.4,429.6 644.0,430.0 644.5,430.6 645.0,427.4 645.5,424.5 646.0,424.0 646.5,423.7 647.0,423.4 647.5,424.3 648.0,426.5 648.7,433.6 649.2,429.8 649.6,428.5 650.1,426.3 650.6,424.5 651.1,425.1 651.6,425.6 652.1,426.5 652.6,428.9 653.1,431.6 653.6,428.0 654.1,427.5 654.7,425.8 655.2,424.5 655.7,423.0 656.2,422.0 656.7,421.0 657.1,418.2 657.5,414.0 658.0,412.5 658.5,409.2 658.9,412.9 659.3,416.0 659.8,421.0 660.5,424.5 660.9,423.5 661.3,424.0 661.8,421.0 662.5,418.0 662.9,418.2 663.4,416.9 663.8,416.0 664.3,416.0 664.9,416.4 665.4,414.2 665.9,421.0 666.4,422.5 666.9,421.0 667.4,414.0 667.9,410.2 668.4,408.0 668.9,403.0 669.5,388.0 670.0,392.6 670.6,395.5 671.1,399.2 671.6,405.0 672.1,404.0 672.6,401.4 673.1,400.3 673.6,403.8 674.0,405.0 674.5,405.3 675.0,406.1 675.5,412.8 676.1,413.3 676.6,416.2 677.1,417.3 677.6,417.1 678.1,416.6 678.6,416.3 679.1,418.6 679.6,420.4 680.1,421.0 680.7,423.4 681.2,425.6 681.7,428.5 682.2,431.1 682.7,438.7 683.4,439.8 683.8,433.6 684.2,432.6 684.7,429.8 685.2,429.6 685.8,429.9 686.3,430.6 686.8,432.9 687.3,435.7 687.8,436.4 688.3,438.7 688.8,440.0 689.3,442.8 689.8,439.8 690.3,447.9 690.8,442.4 691.4,441.8 692.0,440.2 692.6,444.9 693.0,438.6 693.4,445.9 693.9,441.5 694.4,438.7 694.9,432.7 695.4,429.6 696.0,427.9 696.5,426.5 696.9,423.2 697.3,421.0 697.7,419.2 698.2,418.1 698.6,415.5 699.1,414.7 699.6,412.7 700.1,408.0 700.6,405.4 701.1,404.0 701.7,404.6 702.2,399.4 702.7,397.2 703.2,402.7 703.7,405.8 704.2,411.3 704.7,411.5 705.2,411.8 705.8,412.0 706.3,409.0 706.8,407.4 707.3,406.4 707.8,400.0 708.3,400.4 708.8,389.1 709.3,387.7 709.7,393.1 710.2,384.0 710.7,386.6 711.3,391.2 711.8,389.1 712.4,391.9 712.9,388.3 713.5,387.0 714.0,397.0 714.5,395.5 715.0,398.9 715.5,401.3 716.0,403.2 716.5,405.6 717.0,407.9 717.5,408.4 718.0,410.1 718.5,408.2 719.1,409.1 719.6,406.4 720.1,406.0 720.6,406.4 721.1,406.2 721.6,404.3 722.1,410.4 722.7,411.5 723.2,412.7 723.7,413.5 724.2,414.3 724.7,415.4 725.2,416.7 725.7,416.6 726.2,418.9 726.8,421.0 727.5,433.9 728.2,421.0 728.7,418.8 729.3,416.4 729.8,413.5 730.3,413.0 730.8,414.9 731.3,413.8 731.8,411.5 732.3,409.8 732.8,409.2 733.3,406.0 733.8,403.3 734.3,404.9 734.8,406.2 735.4,405.6 735.9,405.4 736.4,407.0 736.9,407.9 737.4,409.7 737.9,408.4 738.4,409.6 738.9,410.2 739.4,412.5 739.9,411.5 740.4,410.3 741.0,411.3 741.5,408.0 742.0,404.5 742.6,404.3 743.1,398.4 743.7,393.5 744.2,396.5 744.7,386.6 745.2,383.3 745.7,379.2 746.2,377.5 746.7,382.3 747.2,381.1 747.7,371.1 748.2,374.8 748.7,379.7 749.2,379.2 749.7,387.1 750.1,382.2 750.6,375.2 751.1,378.9 751.7,383.2 752.2,385.4 752.7,387.5 753.2,388.8 753.8,392.2 754.3,391.5 754.8,389.6 755.3,395.7 755.8,388.1 756.3,383.3 756.8,387.6 757.3,389.7 757.8,391.7 758.3,385.4 758.8,392.2 759.3,386.3 759.9,385.1 760.4,382.3 760.9,384.7 761.4,381.3 761.9,383.7 762.4,380.3 762.9,385.9 763.4,389.5 763.9,385.2 764.4,375.2 765.0,383.2 765.5,383.6 766.1,379.2 766.6,377.6 767.0,378.3 767.5,374.2 768.0,380.9 768.5,388.5 769.0,387.5 769.5,391.5 770.0,392.9 770.5,393.6 771.1,396.0 771.6,389.4 772.1,399.2 772.5,400.7 773.0,401.6 773.5,399.3 774.1,400.9 774.6,393.5 775.1,398.6 775.7,393.0 776.2,389.4 776.7,385.4 777.2,388.2 777.7,384.4 778.2,389.5 778.7,382.3 779.2,392.9 779.7,386.3 780.2,388.9 780.7,382.3 781.2,388.0 781.8,376.8 782.3,384.9 782.8,369.1 783.3,373.0 783.8,362.9 784.3,358.1 784.8,353.8 785.3,359.0 785.9,367.4 786.4,363.0 786.9,374.6 787.5,370.9 788.0,383.2 788.5,373.1 789.0,375.1 789.4,375.5 789.9,370.1 790.4,372.5 791.0,386.4 791.5,376.1 792.0,377.2 792.5,388.3 793.0,383.5 793.5,384.4 794.0,380.3 794.5,386.2 795.0,384.3 795.5,393.1 796.0,385.4 796.5,394.7 796.9,391.7 797.4,383.3 798.0,384.7 798.5,375.7 799.1,371.1 799.6,380.4 800.1,370.3 800.6,379.5 801.1,365.0 801.6,357.5 802.1,345.6 802.6,350.8 803.1,336.5 803.6,336.5 803.6,421.0" fill="#ff0000" clip-path="url(#cneg)"/>
<text x="851.5" y="358.8" font-family='"Liberation Sans", sans-serif' font-size="13.3" fill="#2a2aff" textLength="24.7" lengthAdjust="spacingAndGlyphs">25%</text>
<text x="80.2" y="287.8" font-family='"Liberation Sans", sans-serif' font-size="12.4" fill="#2a2aff" text-anchor="middle" textLength="25.8" lengthAdjust="spacingAndGlyphs">38%</text>
<text x="795.2" y="300.6" font-family='"Liberation Sans", sans-serif' font-size="12.4" fill="#2a2aff" text-anchor="middle" textLength="25.6" lengthAdjust="spacingAndGlyphs">33%</text>
<line x1="72.6" y1="293.3" x2="79.28" y2="311.43" stroke="#0000ff" stroke-width="2.5"/>
<path d="M74.43,312.15 L83.44,308.83 L81.7,318 Z" fill="#0000ff"/>
<line x1="137.8" y1="324.6" x2="144.42" y2="342.05" stroke="#0000ff" stroke-width="2.5"/>
<path d="M139.58,342.82 L148.55,339.42 L146.9,348.6 Z" fill="#0000ff"/>
<line x1="267.8" y1="325.2" x2="275.30" y2="343.14" stroke="#0000ff" stroke-width="2.5"/>
<path d="M270.49,344.07 L279.34,340.37 L278,349.6 Z" fill="#0000ff"/>
<line x1="600.5" y1="327.5" x2="607.26" y2="345.64" stroke="#0000ff" stroke-width="2.5"/>
<path d="M602.41,346.38 L611.41,343.03 L609.7,352.2 Z" fill="#0000ff"/>
<line x1="792.6" y1="306.9" x2="799.25" y2="324.74" stroke="#0000ff" stroke-width="2.5"/>
<path d="M794.41,325.48 L803.40,322.13 L801.7,331.3 Z" fill="#0000ff"/>
<text x="309.3" y="306.8" font-family='"Liberation Sans", sans-serif' font-size="20.2" fill="#151515" textLength="311" lengthAdjust="spacingAndGlyphs">% From 200-Day Moving Average</text>
<line x1="0" y1="497.5" x2="960" y2="497.5" stroke="#d4d4d4" stroke-width="1"/>
<line x1="0" y1="520.5" x2="960" y2="520.5" stroke="#d4d4d4" stroke-width="1"/>
<line x1="34.25" y1="497.5" x2="34.25" y2="520.5" stroke="#d4d4d4" stroke-width="1"/>
<text x="35.85" y="514.9" font-family='"Liberation Sans", sans-serif' font-size="17.6" fill="#383838" textLength="38.7" lengthAdjust="spacingAndGlyphs">2005</text>
<line x1="219.5" y1="497.5" x2="219.5" y2="520.5" stroke="#d4d4d4" stroke-width="1"/>
<text x="221.1" y="514.9" font-family='"Liberation Sans", sans-serif' font-size="17.6" fill="#383838" textLength="38.7" lengthAdjust="spacingAndGlyphs">2010</text>
<line x1="404.3" y1="497.5" x2="404.3" y2="520.5" stroke="#d4d4d4" stroke-width="1"/>
<text x="405.90000000000003" y="514.9" font-family='"Liberation Sans", sans-serif' font-size="17.6" fill="#383838" textLength="38.7" lengthAdjust="spacingAndGlyphs">2015</text>
<line x1="589.3" y1="497.5" x2="589.3" y2="520.5" stroke="#d4d4d4" stroke-width="1"/>
<text x="590.9" y="514.9" font-family='"Liberation Sans", sans-serif' font-size="17.6" fill="#383838" textLength="38.7" lengthAdjust="spacingAndGlyphs">2020</text>
<line x1="773.7" y1="497.5" x2="773.7" y2="520.5" stroke="#d4d4d4" stroke-width="1"/>
<text x="775.3000000000001" y="514.9" font-family='"Liberation Sans", sans-serif' font-size="17.6" fill="#383838" textLength="38.7" lengthAdjust="spacingAndGlyphs">2025</text>
<text x="481" y="531" font-family='"Liberation Sans", sans-serif' font-size="6.8" fill="#444" text-anchor="middle">21st Oct 2025</text>
</svg>
</body></html>
